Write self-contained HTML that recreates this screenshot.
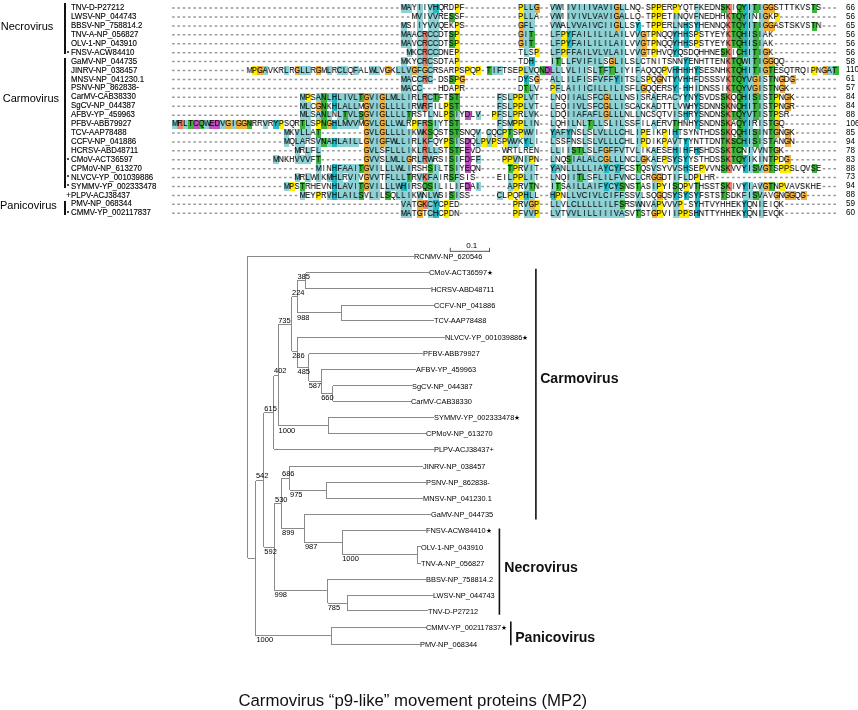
<!DOCTYPE html>
<html><head><meta charset="utf-8"><style>
html,body{margin:0;padding:0;background:#fff;}
body{width:858px;height:710px;position:relative;overflow:hidden;font-family:"Liberation Sans",sans-serif;color:#111;}
s{position:absolute;height:8.92px;display:block;text-decoration:none;}
.ar{position:absolute;left:172.00px;height:8.92px;white-space:nowrap;font-size:8.7px;line-height:8.92px;transform:scaleX(0.8600);transform-origin:0 0;will-change:transform;}
.ar b,.ar i{display:inline-block;width:6.2016px;height:8.92px;text-align:center;font-weight:normal;font-style:normal;position:relative;vertical-align:top;color:#000;-webkit-text-stroke:0.1px #000;}

.nm{position:absolute;left:70.9px;font-size:8.4px;line-height:8.92px;white-space:nowrap;color:#000;transform:scaleX(.94);transform-origin:0 0;-webkit-text-stroke:0.12px #000;}
.num{position:absolute;left:846px;font-size:9px;line-height:8.92px;color:#000;transform:scaleX(.9);transform-origin:0 0;}
.dot{position:absolute;left:67.3px;width:2px;height:2px;border-radius:1px;background:#111;}
.plus{position:absolute;left:65.9px;font-size:8.6px;line-height:8.92px;color:#000;}
.bar{position:absolute;left:64.1px;width:1.9px;background:#111;}
.grp{position:absolute;font-size:11px;line-height:11px;white-space:nowrap;color:#000;}
.tree{position:absolute;left:0;top:0;}
.lf{position:absolute;font-size:7.8px;line-height:10px;white-space:nowrap;color:#000;transform:scaleX(.95);transform-origin:0 50%;}
.st{font-size:7px;}
.bt{position:absolute;font-size:7.5px;line-height:8px;white-space:nowrap;color:#000;}
.big{position:absolute;font-size:14.1px;font-weight:bold;line-height:14px;white-space:nowrap;color:#111;}
.cap{position:absolute;left:238.4px;top:691.5px;font-size:16.8px;line-height:17px;white-space:nowrap;color:#111;}
</style></head><body><div id="wrap" style="position:absolute;left:0;top:0;width:858px;height:710px;will-change:transform">
<div class="grp" style="left:0.8px;top:20.6px">Necrovirus</div>
<div class="grp" style="left:2.8px;top:93.4px">Carmovirus</div>
<div class="grp" style="left:0px;top:199.6px">Panicovirus</div>
<div class="bar" style="top:3.3px;height:50.3px"></div>
<div class="bar" style="top:58.4px;height:129.5px"></div>
<div class="bar" style="top:201px;height:13.5px"></div>
<div class="nm" style="top:3.20px">TNV-D-P27212</div><div class="num" style="top:3.00px">66</div><div class="nm" style="top:12.12px">LWSV-NP_044743</div><div class="num" style="top:11.92px">56</div><div class="nm" style="top:21.04px">BBSV-NP_758814.2</div><div class="num" style="top:20.84px">65</div><div class="nm" style="top:29.96px">TNV-A-NP_056827</div><div class="num" style="top:29.76px">56</div><div class="nm" style="top:38.88px">OLV-1-NP_043910</div><div class="num" style="top:38.68px">56</div><div class="nm" style="top:47.80px">FNSV-ACW84410</div><div class="num" style="top:47.60px">56</div><div class="dot" style="top:50.50px"></div><div class="nm" style="top:56.72px">GaMV-NP_044735</div><div class="num" style="top:56.52px">58</div><div class="nm" style="top:65.64px">JINRV-NP_038457</div><div class="num" style="top:65.44px">110</div><div class="nm" style="top:74.56px">MNSV-NP_041230.1</div><div class="num" style="top:74.36px">61</div><div class="nm" style="top:83.48px">PSNV-NP_862838-</div><div class="num" style="top:83.28px">57</div><div class="nm" style="top:92.40px">CarMV-CAB38330</div><div class="num" style="top:92.20px">84</div><div class="nm" style="top:101.32px">SgCV-NP_044387</div><div class="num" style="top:101.12px">84</div><div class="nm" style="top:110.24px">AFBV-YP_459963</div><div class="num" style="top:110.04px">88</div><div class="nm" style="top:119.16px">PFBV-ABB79927</div><div class="num" style="top:118.96px">106</div><div class="nm" style="top:128.08px">TCV-AAP78488</div><div class="num" style="top:127.88px">85</div><div class="nm" style="top:137.00px">CCFV-NP_041886</div><div class="num" style="top:136.80px">94</div><div class="nm" style="top:145.92px">HCRSV-ABD48711</div><div class="num" style="top:145.72px">78</div><div class="nm" style="top:154.84px">CMoV-ACT36597</div><div class="num" style="top:154.64px">83</div><div class="dot" style="top:157.54px"></div><div class="nm" style="top:163.76px">CPMoV-NP_613270</div><div class="num" style="top:163.56px">88</div><div class="nm" style="top:172.68px">NLVCV-YP_001039886</div><div class="num" style="top:172.48px">73</div><div class="dot" style="top:175.38px"></div><div class="nm" style="top:181.60px">SYMMV-YP_002333478</div><div class="num" style="top:181.40px">94</div><div class="dot" style="top:184.30px"></div><div class="nm" style="top:190.52px">PLPV-ACJ38437</div><div class="num" style="top:190.32px">88</div><div class="plus" style="top:191.12px">+</div><div class="nm" style="top:199.44px">PMV-NP_068344</div><div class="num" style="top:199.24px">59</div><div class="nm" style="top:208.36px">CMMV-YP_002117837</div><div class="num" style="top:208.16px">60</div><div class="dot" style="top:211.06px"></div>
<s style="left:401.33px;top:3.80px;width:10.67px;background:#8ed2d6"></s><s style="left:417.33px;top:3.80px;width:5.33px;background:#8ed2d6"></s><s style="left:428.00px;top:3.80px;width:5.33px;background:#8ed2d6"></s><s style="left:433.33px;top:3.80px;width:5.33px;background:#22b8c4"></s><s style="left:454.67px;top:3.80px;width:5.33px;background:#ffec00"></s><s style="left:518.67px;top:3.80px;width:5.33px;background:#ffec00"></s><s style="left:524.00px;top:3.80px;width:10.67px;background:#8ed2d6"></s><s style="left:534.67px;top:3.80px;width:5.33px;background:#f0b040"></s><s style="left:550.67px;top:3.80px;width:10.67px;background:#8ed2d6"></s><s style="left:566.67px;top:3.80px;width:48.00px;background:#8ed2d6"></s><s style="left:614.67px;top:3.80px;width:5.33px;background:#f0b040"></s><s style="left:620.00px;top:3.80px;width:5.33px;background:#8ed2d6"></s><s style="left:652.00px;top:3.80px;width:10.67px;background:#ffec00"></s><s style="left:673.33px;top:3.80px;width:5.33px;background:#ffec00"></s><s style="left:694.67px;top:3.80px;width:5.33px;background:#8ed2d6"></s><s style="left:721.33px;top:3.80px;width:5.33px;background:#3cb43c"></s><s style="left:726.67px;top:3.80px;width:5.33px;background:#f0826a"></s><s style="left:737.33px;top:3.80px;width:5.33px;background:#3cb43c"></s><s style="left:742.67px;top:3.80px;width:5.33px;background:#22b8c4"></s><s style="left:748.00px;top:3.80px;width:5.33px;background:#8ed2d6"></s><s style="left:753.33px;top:3.80px;width:5.33px;background:#3cb43c"></s><s style="left:758.67px;top:3.80px;width:5.33px;background:#8ed2d6"></s><s style="left:764.00px;top:3.80px;width:10.67px;background:#f0b040"></s><s style="left:812.00px;top:3.80px;width:5.33px;background:#3cb43c"></s><s style="left:417.33px;top:12.72px;width:5.33px;background:#8ed2d6"></s><s style="left:428.00px;top:12.72px;width:10.67px;background:#8ed2d6"></s><s style="left:449.33px;top:12.72px;width:5.33px;background:#3cb43c"></s><s style="left:518.67px;top:12.72px;width:5.33px;background:#ffec00"></s><s style="left:524.00px;top:12.72px;width:10.67px;background:#8ed2d6"></s><s style="left:550.67px;top:12.72px;width:10.67px;background:#8ed2d6"></s><s style="left:566.67px;top:12.72px;width:48.00px;background:#8ed2d6"></s><s style="left:614.67px;top:12.72px;width:5.33px;background:#f0b040"></s><s style="left:620.00px;top:12.72px;width:5.33px;background:#8ed2d6"></s><s style="left:652.00px;top:12.72px;width:10.67px;background:#ffec00"></s><s style="left:673.33px;top:12.72px;width:5.33px;background:#8ed2d6"></s><s style="left:694.67px;top:12.72px;width:5.33px;background:#8ed2d6"></s><s style="left:726.67px;top:12.72px;width:5.33px;background:#f0826a"></s><s style="left:732.00px;top:12.72px;width:10.67px;background:#3cb43c"></s><s style="left:742.67px;top:12.72px;width:5.33px;background:#22b8c4"></s><s style="left:748.00px;top:12.72px;width:5.33px;background:#8ed2d6"></s><s style="left:758.67px;top:12.72px;width:5.33px;background:#8ed2d6"></s><s style="left:764.00px;top:12.72px;width:5.33px;background:#f0b040"></s><s style="left:774.67px;top:12.72px;width:5.33px;background:#ffec00"></s><s style="left:401.33px;top:21.64px;width:5.33px;background:#8ed2d6"></s><s style="left:417.33px;top:21.64px;width:5.33px;background:#8ed2d6"></s><s style="left:428.00px;top:21.64px;width:10.67px;background:#8ed2d6"></s><s style="left:454.67px;top:21.64px;width:5.33px;background:#ffec00"></s><s style="left:518.67px;top:21.64px;width:5.33px;background:#f0b040"></s><s style="left:524.00px;top:21.64px;width:10.67px;background:#8ed2d6"></s><s style="left:550.67px;top:21.64px;width:10.67px;background:#8ed2d6"></s><s style="left:566.67px;top:21.64px;width:48.00px;background:#8ed2d6"></s><s style="left:614.67px;top:21.64px;width:5.33px;background:#f0b040"></s><s style="left:620.00px;top:21.64px;width:5.33px;background:#8ed2d6"></s><s style="left:636.00px;top:21.64px;width:5.33px;background:#22b8c4"></s><s style="left:652.00px;top:21.64px;width:10.67px;background:#ffec00"></s><s style="left:673.33px;top:21.64px;width:5.33px;background:#8ed2d6"></s><s style="left:684.00px;top:21.64px;width:5.33px;background:#22b8c4"></s><s style="left:694.67px;top:21.64px;width:5.33px;background:#22b8c4"></s><s style="left:726.67px;top:21.64px;width:5.33px;background:#f0826a"></s><s style="left:732.00px;top:21.64px;width:10.67px;background:#3cb43c"></s><s style="left:742.67px;top:21.64px;width:5.33px;background:#22b8c4"></s><s style="left:748.00px;top:21.64px;width:5.33px;background:#8ed2d6"></s><s style="left:753.33px;top:21.64px;width:5.33px;background:#3cb43c"></s><s style="left:758.67px;top:21.64px;width:5.33px;background:#8ed2d6"></s><s style="left:764.00px;top:21.64px;width:10.67px;background:#f0b040"></s><s style="left:812.00px;top:21.64px;width:5.33px;background:#3cb43c"></s><s style="left:401.33px;top:30.56px;width:10.67px;background:#8ed2d6"></s><s style="left:417.33px;top:30.56px;width:5.33px;background:#8ed2d6"></s><s style="left:422.67px;top:30.56px;width:5.33px;background:#f0826a"></s><s style="left:428.00px;top:30.56px;width:10.67px;background:#8ed2d6"></s><s style="left:449.33px;top:30.56px;width:5.33px;background:#3cb43c"></s><s style="left:454.67px;top:30.56px;width:5.33px;background:#ffec00"></s><s style="left:518.67px;top:30.56px;width:5.33px;background:#f0b040"></s><s style="left:524.00px;top:30.56px;width:5.33px;background:#8ed2d6"></s><s style="left:529.33px;top:30.56px;width:5.33px;background:#3cb43c"></s><s style="left:550.67px;top:30.56px;width:10.67px;background:#8ed2d6"></s><s style="left:561.33px;top:30.56px;width:5.33px;background:#ffec00"></s><s style="left:566.67px;top:30.56px;width:5.33px;background:#22b8c4"></s><s style="left:572.00px;top:30.56px;width:53.33px;background:#8ed2d6"></s><s style="left:636.00px;top:30.56px;width:5.33px;background:#8ed2d6"></s><s style="left:641.33px;top:30.56px;width:5.33px;background:#f0b040"></s><s style="left:652.00px;top:30.56px;width:5.33px;background:#ffec00"></s><s style="left:673.33px;top:30.56px;width:5.33px;background:#22b8c4"></s><s style="left:684.00px;top:30.56px;width:5.33px;background:#22b8c4"></s><s style="left:694.67px;top:30.56px;width:5.33px;background:#ffec00"></s><s style="left:726.67px;top:30.56px;width:5.33px;background:#f0826a"></s><s style="left:732.00px;top:30.56px;width:10.67px;background:#3cb43c"></s><s style="left:742.67px;top:30.56px;width:5.33px;background:#22b8c4"></s><s style="left:748.00px;top:30.56px;width:5.33px;background:#8ed2d6"></s><s style="left:753.33px;top:30.56px;width:5.33px;background:#3cb43c"></s><s style="left:758.67px;top:30.56px;width:5.33px;background:#8ed2d6"></s><s style="left:401.33px;top:39.48px;width:10.67px;background:#8ed2d6"></s><s style="left:417.33px;top:39.48px;width:5.33px;background:#8ed2d6"></s><s style="left:422.67px;top:39.48px;width:5.33px;background:#f0826a"></s><s style="left:428.00px;top:39.48px;width:10.67px;background:#8ed2d6"></s><s style="left:449.33px;top:39.48px;width:5.33px;background:#3cb43c"></s><s style="left:454.67px;top:39.48px;width:5.33px;background:#ffec00"></s><s style="left:518.67px;top:39.48px;width:5.33px;background:#f0b040"></s><s style="left:524.00px;top:39.48px;width:5.33px;background:#8ed2d6"></s><s style="left:529.33px;top:39.48px;width:5.33px;background:#3cb43c"></s><s style="left:550.67px;top:39.48px;width:10.67px;background:#8ed2d6"></s><s style="left:561.33px;top:39.48px;width:5.33px;background:#ffec00"></s><s style="left:566.67px;top:39.48px;width:5.33px;background:#22b8c4"></s><s style="left:572.00px;top:39.48px;width:53.33px;background:#8ed2d6"></s><s style="left:636.00px;top:39.48px;width:5.33px;background:#8ed2d6"></s><s style="left:641.33px;top:39.48px;width:5.33px;background:#f0b040"></s><s style="left:652.00px;top:39.48px;width:5.33px;background:#ffec00"></s><s style="left:673.33px;top:39.48px;width:5.33px;background:#22b8c4"></s><s style="left:684.00px;top:39.48px;width:5.33px;background:#22b8c4"></s><s style="left:694.67px;top:39.48px;width:5.33px;background:#ffec00"></s><s style="left:726.67px;top:39.48px;width:5.33px;background:#f0826a"></s><s style="left:732.00px;top:39.48px;width:10.67px;background:#3cb43c"></s><s style="left:742.67px;top:39.48px;width:5.33px;background:#22b8c4"></s><s style="left:748.00px;top:39.48px;width:5.33px;background:#8ed2d6"></s><s style="left:753.33px;top:39.48px;width:5.33px;background:#3cb43c"></s><s style="left:758.67px;top:39.48px;width:5.33px;background:#8ed2d6"></s><s style="left:406.67px;top:48.40px;width:5.33px;background:#8ed2d6"></s><s style="left:417.33px;top:48.40px;width:5.33px;background:#8ed2d6"></s><s style="left:422.67px;top:48.40px;width:5.33px;background:#f0826a"></s><s style="left:428.00px;top:48.40px;width:10.67px;background:#8ed2d6"></s><s style="left:454.67px;top:48.40px;width:5.33px;background:#ffec00"></s><s style="left:524.00px;top:48.40px;width:5.33px;background:#8ed2d6"></s><s style="left:534.67px;top:48.40px;width:5.33px;background:#ffec00"></s><s style="left:550.67px;top:48.40px;width:10.67px;background:#8ed2d6"></s><s style="left:561.33px;top:48.40px;width:5.33px;background:#ffec00"></s><s style="left:566.67px;top:48.40px;width:58.67px;background:#8ed2d6"></s><s style="left:636.00px;top:48.40px;width:5.33px;background:#8ed2d6"></s><s style="left:641.33px;top:48.40px;width:5.33px;background:#f0b040"></s><s style="left:652.00px;top:48.40px;width:5.33px;background:#ffec00"></s><s style="left:673.33px;top:48.40px;width:5.33px;background:#22b8c4"></s><s style="left:721.33px;top:48.40px;width:5.33px;background:#3cb43c"></s><s style="left:726.67px;top:48.40px;width:5.33px;background:#f0826a"></s><s style="left:737.33px;top:48.40px;width:5.33px;background:#3cb43c"></s><s style="left:742.67px;top:48.40px;width:5.33px;background:#22b8c4"></s><s style="left:748.00px;top:48.40px;width:5.33px;background:#8ed2d6"></s><s style="left:753.33px;top:48.40px;width:5.33px;background:#3cb43c"></s><s style="left:758.67px;top:48.40px;width:5.33px;background:#8ed2d6"></s><s style="left:764.00px;top:48.40px;width:5.33px;background:#f0b040"></s><s style="left:401.33px;top:57.32px;width:5.33px;background:#8ed2d6"></s><s style="left:417.33px;top:57.32px;width:5.33px;background:#8ed2d6"></s><s style="left:422.67px;top:57.32px;width:5.33px;background:#f0826a"></s><s style="left:428.00px;top:57.32px;width:5.33px;background:#8ed2d6"></s><s style="left:454.67px;top:57.32px;width:5.33px;background:#ffec00"></s><s style="left:529.33px;top:57.32px;width:5.33px;background:#22b8c4"></s><s style="left:550.67px;top:57.32px;width:5.33px;background:#8ed2d6"></s><s style="left:556.00px;top:57.32px;width:5.33px;background:#3cb43c"></s><s style="left:566.67px;top:57.32px;width:37.33px;background:#8ed2d6"></s><s style="left:609.33px;top:57.32px;width:5.33px;background:#f0b040"></s><s style="left:614.67px;top:57.32px;width:10.67px;background:#8ed2d6"></s><s style="left:636.00px;top:57.32px;width:5.33px;background:#8ed2d6"></s><s style="left:684.00px;top:57.32px;width:5.33px;background:#22b8c4"></s><s style="left:726.67px;top:57.32px;width:5.33px;background:#f0826a"></s><s style="left:732.00px;top:57.32px;width:10.67px;background:#3cb43c"></s><s style="left:742.67px;top:57.32px;width:10.67px;background:#8ed2d6"></s><s style="left:753.33px;top:57.32px;width:5.33px;background:#3cb43c"></s><s style="left:758.67px;top:57.32px;width:5.33px;background:#8ed2d6"></s><s style="left:764.00px;top:57.32px;width:10.67px;background:#f0b040"></s><s style="left:252.00px;top:66.24px;width:5.33px;background:#ffec00"></s><s style="left:257.33px;top:66.24px;width:5.33px;background:#f0b040"></s><s style="left:262.67px;top:66.24px;width:5.33px;background:#8ed2d6"></s><s style="left:284.00px;top:66.24px;width:5.33px;background:#8ed2d6"></s><s style="left:294.67px;top:66.24px;width:5.33px;background:#f0b040"></s><s style="left:300.00px;top:66.24px;width:10.67px;background:#8ed2d6"></s><s style="left:316.00px;top:66.24px;width:5.33px;background:#f0b040"></s><s style="left:326.67px;top:66.24px;width:5.33px;background:#8ed2d6"></s><s style="left:337.33px;top:66.24px;width:10.67px;background:#8ed2d6"></s><s style="left:353.33px;top:66.24px;width:5.33px;background:#8ed2d6"></s><s style="left:369.33px;top:66.24px;width:10.67px;background:#8ed2d6"></s><s style="left:385.33px;top:66.24px;width:5.33px;background:#f0b040"></s><s style="left:396.00px;top:66.24px;width:16.00px;background:#8ed2d6"></s><s style="left:412.00px;top:66.24px;width:5.33px;background:#f0b040"></s><s style="left:417.33px;top:66.24px;width:5.33px;background:#8ed2d6"></s><s style="left:422.67px;top:66.24px;width:5.33px;background:#f0b040"></s><s style="left:428.00px;top:66.24px;width:5.33px;background:#8ed2d6"></s><s style="left:454.67px;top:66.24px;width:5.33px;background:#ffec00"></s><s style="left:465.33px;top:66.24px;width:5.33px;background:#ffec00"></s><s style="left:476.00px;top:66.24px;width:5.33px;background:#ffec00"></s><s style="left:486.67px;top:66.24px;width:5.33px;background:#3cb43c"></s><s style="left:492.00px;top:66.24px;width:10.67px;background:#8ed2d6"></s><s style="left:518.67px;top:66.24px;width:5.33px;background:#ffec00"></s><s style="left:524.00px;top:66.24px;width:10.67px;background:#8ed2d6"></s><s style="left:540.00px;top:66.24px;width:5.33px;background:#3cb43c"></s><s style="left:545.33px;top:66.24px;width:5.33px;background:#c050c0"></s><s style="left:550.67px;top:66.24px;width:10.67px;background:#8ed2d6"></s><s style="left:566.67px;top:66.24px;width:21.33px;background:#8ed2d6"></s><s style="left:593.33px;top:66.24px;width:5.33px;background:#8ed2d6"></s><s style="left:598.67px;top:66.24px;width:5.33px;background:#3cb43c"></s><s style="left:604.00px;top:66.24px;width:5.33px;background:#8ed2d6"></s><s style="left:609.33px;top:66.24px;width:5.33px;background:#3cb43c"></s><s style="left:614.67px;top:66.24px;width:10.67px;background:#8ed2d6"></s><s style="left:636.00px;top:66.24px;width:5.33px;background:#8ed2d6"></s><s style="left:662.67px;top:66.24px;width:5.33px;background:#ffec00"></s><s style="left:673.33px;top:66.24px;width:5.33px;background:#22b8c4"></s><s style="left:684.00px;top:66.24px;width:5.33px;background:#22b8c4"></s><s style="left:694.67px;top:66.24px;width:5.33px;background:#22b8c4"></s><s style="left:726.67px;top:66.24px;width:5.33px;background:#f0826a"></s><s style="left:732.00px;top:66.24px;width:10.67px;background:#3cb43c"></s><s style="left:742.67px;top:66.24px;width:5.33px;background:#22b8c4"></s><s style="left:748.00px;top:66.24px;width:5.33px;background:#8ed2d6"></s><s style="left:753.33px;top:66.24px;width:5.33px;background:#3cb43c"></s><s style="left:758.67px;top:66.24px;width:5.33px;background:#8ed2d6"></s><s style="left:764.00px;top:66.24px;width:5.33px;background:#f0b040"></s><s style="left:769.33px;top:66.24px;width:5.33px;background:#3cb43c"></s><s style="left:812.00px;top:66.24px;width:5.33px;background:#ffec00"></s><s style="left:822.67px;top:66.24px;width:5.33px;background:#f0b040"></s><s style="left:828.00px;top:66.24px;width:5.33px;background:#8ed2d6"></s><s style="left:833.33px;top:66.24px;width:5.33px;background:#3cb43c"></s><s style="left:401.33px;top:75.16px;width:10.67px;background:#8ed2d6"></s><s style="left:417.33px;top:75.16px;width:5.33px;background:#8ed2d6"></s><s style="left:422.67px;top:75.16px;width:5.33px;background:#f0826a"></s><s style="left:428.00px;top:75.16px;width:5.33px;background:#8ed2d6"></s><s style="left:449.33px;top:75.16px;width:5.33px;background:#3cb43c"></s><s style="left:454.67px;top:75.16px;width:5.33px;background:#ffec00"></s><s style="left:460.00px;top:75.16px;width:5.33px;background:#f0b040"></s><s style="left:524.00px;top:75.16px;width:5.33px;background:#22b8c4"></s><s style="left:534.67px;top:75.16px;width:5.33px;background:#f0b040"></s><s style="left:550.67px;top:75.16px;width:10.67px;background:#8ed2d6"></s><s style="left:566.67px;top:75.16px;width:21.33px;background:#8ed2d6"></s><s style="left:593.33px;top:75.16px;width:21.33px;background:#8ed2d6"></s><s style="left:614.67px;top:75.16px;width:5.33px;background:#22b8c4"></s><s style="left:620.00px;top:75.16px;width:5.33px;background:#8ed2d6"></s><s style="left:636.00px;top:75.16px;width:5.33px;background:#8ed2d6"></s><s style="left:646.67px;top:75.16px;width:5.33px;background:#ffec00"></s><s style="left:657.33px;top:75.16px;width:5.33px;background:#f0b040"></s><s style="left:673.33px;top:75.16px;width:5.33px;background:#22b8c4"></s><s style="left:684.00px;top:75.16px;width:5.33px;background:#22b8c4"></s><s style="left:694.67px;top:75.16px;width:5.33px;background:#8ed2d6"></s><s style="left:726.67px;top:75.16px;width:5.33px;background:#f0826a"></s><s style="left:732.00px;top:75.16px;width:10.67px;background:#3cb43c"></s><s style="left:742.67px;top:75.16px;width:5.33px;background:#22b8c4"></s><s style="left:748.00px;top:75.16px;width:5.33px;background:#8ed2d6"></s><s style="left:753.33px;top:75.16px;width:5.33px;background:#f0b040"></s><s style="left:758.67px;top:75.16px;width:5.33px;background:#8ed2d6"></s><s style="left:769.33px;top:75.16px;width:5.33px;background:#3cb43c"></s><s style="left:780.00px;top:75.16px;width:5.33px;background:#f0b040"></s><s style="left:790.67px;top:75.16px;width:5.33px;background:#f0b040"></s><s style="left:401.33px;top:84.08px;width:10.67px;background:#8ed2d6"></s><s style="left:417.33px;top:84.08px;width:5.33px;background:#8ed2d6"></s><s style="left:454.67px;top:84.08px;width:5.33px;background:#ffec00"></s><s style="left:524.00px;top:84.08px;width:5.33px;background:#3cb43c"></s><s style="left:529.33px;top:84.08px;width:5.33px;background:#8ed2d6"></s><s style="left:550.67px;top:84.08px;width:5.33px;background:#ffec00"></s><s style="left:556.00px;top:84.08px;width:5.33px;background:#8ed2d6"></s><s style="left:566.67px;top:84.08px;width:58.67px;background:#8ed2d6"></s><s style="left:636.00px;top:84.08px;width:5.33px;background:#8ed2d6"></s><s style="left:641.33px;top:84.08px;width:5.33px;background:#f0b040"></s><s style="left:673.33px;top:84.08px;width:5.33px;background:#22b8c4"></s><s style="left:684.00px;top:84.08px;width:5.33px;background:#22b8c4"></s><s style="left:694.67px;top:84.08px;width:5.33px;background:#8ed2d6"></s><s style="left:726.67px;top:84.08px;width:5.33px;background:#f0826a"></s><s style="left:732.00px;top:84.08px;width:10.67px;background:#3cb43c"></s><s style="left:742.67px;top:84.08px;width:5.33px;background:#22b8c4"></s><s style="left:748.00px;top:84.08px;width:5.33px;background:#8ed2d6"></s><s style="left:753.33px;top:84.08px;width:5.33px;background:#f0b040"></s><s style="left:758.67px;top:84.08px;width:5.33px;background:#8ed2d6"></s><s style="left:769.33px;top:84.08px;width:5.33px;background:#3cb43c"></s><s style="left:780.00px;top:84.08px;width:5.33px;background:#f0b040"></s><s style="left:300.00px;top:93.00px;width:5.33px;background:#8ed2d6"></s><s style="left:305.33px;top:93.00px;width:5.33px;background:#ffec00"></s><s style="left:316.00px;top:93.00px;width:5.33px;background:#8ed2d6"></s><s style="left:321.33px;top:93.00px;width:5.33px;background:#3cb43c"></s><s style="left:326.67px;top:93.00px;width:5.33px;background:#8ed2d6"></s><s style="left:332.00px;top:93.00px;width:5.33px;background:#22b8c4"></s><s style="left:337.33px;top:93.00px;width:21.33px;background:#8ed2d6"></s><s style="left:358.67px;top:93.00px;width:5.33px;background:#3cb43c"></s><s style="left:364.00px;top:93.00px;width:5.33px;background:#f0b040"></s><s style="left:369.33px;top:93.00px;width:10.67px;background:#8ed2d6"></s><s style="left:380.00px;top:93.00px;width:5.33px;background:#f0b040"></s><s style="left:385.33px;top:93.00px;width:26.67px;background:#8ed2d6"></s><s style="left:417.33px;top:93.00px;width:5.33px;background:#8ed2d6"></s><s style="left:422.67px;top:93.00px;width:5.33px;background:#f0826a"></s><s style="left:428.00px;top:93.00px;width:5.33px;background:#8ed2d6"></s><s style="left:433.33px;top:93.00px;width:5.33px;background:#3cb43c"></s><s style="left:449.33px;top:93.00px;width:10.67px;background:#3cb43c"></s><s style="left:497.33px;top:93.00px;width:5.33px;background:#8ed2d6"></s><s style="left:508.00px;top:93.00px;width:5.33px;background:#8ed2d6"></s><s style="left:513.33px;top:93.00px;width:10.67px;background:#ffec00"></s><s style="left:524.00px;top:93.00px;width:10.67px;background:#8ed2d6"></s><s style="left:550.67px;top:93.00px;width:5.33px;background:#8ed2d6"></s><s style="left:566.67px;top:93.00px;width:21.33px;background:#8ed2d6"></s><s style="left:593.33px;top:93.00px;width:10.67px;background:#8ed2d6"></s><s style="left:604.00px;top:93.00px;width:5.33px;background:#f0b040"></s><s style="left:609.33px;top:93.00px;width:16.00px;background:#8ed2d6"></s><s style="left:636.00px;top:93.00px;width:5.33px;background:#8ed2d6"></s><s style="left:652.00px;top:93.00px;width:5.33px;background:#8ed2d6"></s><s style="left:673.33px;top:93.00px;width:5.33px;background:#8ed2d6"></s><s style="left:684.00px;top:93.00px;width:5.33px;background:#22b8c4"></s><s style="left:694.67px;top:93.00px;width:5.33px;background:#22b8c4"></s><s style="left:721.33px;top:93.00px;width:5.33px;background:#3cb43c"></s><s style="left:726.67px;top:93.00px;width:5.33px;background:#f0826a"></s><s style="left:737.33px;top:93.00px;width:5.33px;background:#3cb43c"></s><s style="left:742.67px;top:93.00px;width:5.33px;background:#22b8c4"></s><s style="left:748.00px;top:93.00px;width:5.33px;background:#8ed2d6"></s><s style="left:753.33px;top:93.00px;width:5.33px;background:#3cb43c"></s><s style="left:758.67px;top:93.00px;width:5.33px;background:#8ed2d6"></s><s style="left:769.33px;top:93.00px;width:5.33px;background:#3cb43c"></s><s style="left:774.67px;top:93.00px;width:5.33px;background:#ffec00"></s><s style="left:785.33px;top:93.00px;width:5.33px;background:#f0b040"></s><s style="left:300.00px;top:101.92px;width:10.67px;background:#8ed2d6"></s><s style="left:316.00px;top:101.92px;width:5.33px;background:#f0b040"></s><s style="left:321.33px;top:101.92px;width:5.33px;background:#3cb43c"></s><s style="left:332.00px;top:101.92px;width:5.33px;background:#22b8c4"></s><s style="left:337.33px;top:101.92px;width:21.33px;background:#8ed2d6"></s><s style="left:364.00px;top:101.92px;width:5.33px;background:#f0b040"></s><s style="left:369.33px;top:101.92px;width:10.67px;background:#8ed2d6"></s><s style="left:380.00px;top:101.92px;width:5.33px;background:#f0b040"></s><s style="left:385.33px;top:101.92px;width:26.67px;background:#8ed2d6"></s><s style="left:417.33px;top:101.92px;width:5.33px;background:#8ed2d6"></s><s style="left:422.67px;top:101.92px;width:5.33px;background:#f0826a"></s><s style="left:428.00px;top:101.92px;width:5.33px;background:#8ed2d6"></s><s style="left:444.00px;top:101.92px;width:5.33px;background:#ffec00"></s><s style="left:449.33px;top:101.92px;width:10.67px;background:#3cb43c"></s><s style="left:497.33px;top:101.92px;width:5.33px;background:#8ed2d6"></s><s style="left:508.00px;top:101.92px;width:5.33px;background:#8ed2d6"></s><s style="left:513.33px;top:101.92px;width:10.67px;background:#ffec00"></s><s style="left:524.00px;top:101.92px;width:10.67px;background:#8ed2d6"></s><s style="left:550.67px;top:101.92px;width:5.33px;background:#8ed2d6"></s><s style="left:566.67px;top:101.92px;width:21.33px;background:#8ed2d6"></s><s style="left:593.33px;top:101.92px;width:10.67px;background:#8ed2d6"></s><s style="left:604.00px;top:101.92px;width:5.33px;background:#f0b040"></s><s style="left:609.33px;top:101.92px;width:16.00px;background:#8ed2d6"></s><s style="left:636.00px;top:101.92px;width:5.33px;background:#8ed2d6"></s><s style="left:652.00px;top:101.92px;width:5.33px;background:#8ed2d6"></s><s style="left:673.33px;top:101.92px;width:5.33px;background:#8ed2d6"></s><s style="left:684.00px;top:101.92px;width:5.33px;background:#8ed2d6"></s><s style="left:694.67px;top:101.92px;width:5.33px;background:#22b8c4"></s><s style="left:721.33px;top:101.92px;width:5.33px;background:#3cb43c"></s><s style="left:726.67px;top:101.92px;width:5.33px;background:#f0826a"></s><s style="left:737.33px;top:101.92px;width:5.33px;background:#3cb43c"></s><s style="left:742.67px;top:101.92px;width:5.33px;background:#22b8c4"></s><s style="left:748.00px;top:101.92px;width:5.33px;background:#8ed2d6"></s><s style="left:753.33px;top:101.92px;width:5.33px;background:#3cb43c"></s><s style="left:758.67px;top:101.92px;width:5.33px;background:#8ed2d6"></s><s style="left:769.33px;top:101.92px;width:5.33px;background:#3cb43c"></s><s style="left:774.67px;top:101.92px;width:5.33px;background:#ffec00"></s><s style="left:785.33px;top:101.92px;width:5.33px;background:#f0b040"></s><s style="left:300.00px;top:110.84px;width:10.67px;background:#8ed2d6"></s><s style="left:316.00px;top:110.84px;width:5.33px;background:#8ed2d6"></s><s style="left:321.33px;top:110.84px;width:5.33px;background:#3cb43c"></s><s style="left:326.67px;top:110.84px;width:5.33px;background:#8ed2d6"></s><s style="left:337.33px;top:110.84px;width:5.33px;background:#8ed2d6"></s><s style="left:342.67px;top:110.84px;width:5.33px;background:#3cb43c"></s><s style="left:348.00px;top:110.84px;width:10.67px;background:#8ed2d6"></s><s style="left:358.67px;top:110.84px;width:5.33px;background:#3cb43c"></s><s style="left:364.00px;top:110.84px;width:5.33px;background:#f0b040"></s><s style="left:369.33px;top:110.84px;width:10.67px;background:#8ed2d6"></s><s style="left:380.00px;top:110.84px;width:5.33px;background:#f0b040"></s><s style="left:385.33px;top:110.84px;width:21.33px;background:#8ed2d6"></s><s style="left:406.67px;top:110.84px;width:5.33px;background:#3cb43c"></s><s style="left:428.00px;top:110.84px;width:5.33px;background:#8ed2d6"></s><s style="left:444.00px;top:110.84px;width:5.33px;background:#ffec00"></s><s style="left:449.33px;top:110.84px;width:5.33px;background:#3cb43c"></s><s style="left:454.67px;top:110.84px;width:5.33px;background:#8ed2d6"></s><s style="left:465.33px;top:110.84px;width:5.33px;background:#c050c0"></s><s style="left:476.00px;top:110.84px;width:5.33px;background:#8ed2d6"></s><s style="left:492.00px;top:110.84px;width:5.33px;background:#ffec00"></s><s style="left:497.33px;top:110.84px;width:5.33px;background:#8ed2d6"></s><s style="left:508.00px;top:110.84px;width:5.33px;background:#8ed2d6"></s><s style="left:513.33px;top:110.84px;width:5.33px;background:#ffec00"></s><s style="left:524.00px;top:110.84px;width:10.67px;background:#8ed2d6"></s><s style="left:550.67px;top:110.84px;width:5.33px;background:#8ed2d6"></s><s style="left:566.67px;top:110.84px;width:37.33px;background:#8ed2d6"></s><s style="left:604.00px;top:110.84px;width:5.33px;background:#f0b040"></s><s style="left:609.33px;top:110.84px;width:16.00px;background:#8ed2d6"></s><s style="left:636.00px;top:110.84px;width:5.33px;background:#8ed2d6"></s><s style="left:673.33px;top:110.84px;width:5.33px;background:#8ed2d6"></s><s style="left:684.00px;top:110.84px;width:5.33px;background:#22b8c4"></s><s style="left:694.67px;top:110.84px;width:5.33px;background:#22b8c4"></s><s style="left:721.33px;top:110.84px;width:5.33px;background:#3cb43c"></s><s style="left:726.67px;top:110.84px;width:5.33px;background:#f0826a"></s><s style="left:732.00px;top:110.84px;width:10.67px;background:#3cb43c"></s><s style="left:742.67px;top:110.84px;width:5.33px;background:#22b8c4"></s><s style="left:748.00px;top:110.84px;width:5.33px;background:#8ed2d6"></s><s style="left:753.33px;top:110.84px;width:5.33px;background:#3cb43c"></s><s style="left:758.67px;top:110.84px;width:5.33px;background:#8ed2d6"></s><s style="left:769.33px;top:110.84px;width:5.33px;background:#3cb43c"></s><s style="left:774.67px;top:110.84px;width:5.33px;background:#ffec00"></s><s style="left:172.00px;top:119.76px;width:5.33px;background:#8ed2d6"></s><s style="left:177.33px;top:119.76px;width:5.33px;background:#f0826a"></s><s style="left:182.67px;top:119.76px;width:5.33px;background:#8ed2d6"></s><s style="left:188.00px;top:119.76px;width:5.33px;background:#3cb43c"></s><s style="left:193.33px;top:119.76px;width:5.33px;background:#c050c0"></s><s style="left:198.67px;top:119.76px;width:5.33px;background:#3cb43c"></s><s style="left:204.00px;top:119.76px;width:5.33px;background:#8ed2d6"></s><s style="left:209.33px;top:119.76px;width:10.67px;background:#c050c0"></s><s style="left:220.00px;top:119.76px;width:5.33px;background:#8ed2d6"></s><s style="left:225.33px;top:119.76px;width:5.33px;background:#f0b040"></s><s style="left:230.67px;top:119.76px;width:5.33px;background:#8ed2d6"></s><s style="left:236.00px;top:119.76px;width:10.67px;background:#f0b040"></s><s style="left:246.67px;top:119.76px;width:5.33px;background:#3cb43c"></s><s style="left:262.67px;top:119.76px;width:5.33px;background:#8ed2d6"></s><s style="left:273.33px;top:119.76px;width:5.33px;background:#22b8c4"></s><s style="left:278.67px;top:119.76px;width:5.33px;background:#ffec00"></s><s style="left:300.00px;top:119.76px;width:5.33px;background:#3cb43c"></s><s style="left:305.33px;top:119.76px;width:5.33px;background:#8ed2d6"></s><s style="left:316.00px;top:119.76px;width:5.33px;background:#ffec00"></s><s style="left:321.33px;top:119.76px;width:5.33px;background:#3cb43c"></s><s style="left:326.67px;top:119.76px;width:5.33px;background:#f0b040"></s><s style="left:332.00px;top:119.76px;width:5.33px;background:#22b8c4"></s><s style="left:337.33px;top:119.76px;width:21.33px;background:#8ed2d6"></s><s style="left:364.00px;top:119.76px;width:5.33px;background:#f0b040"></s><s style="left:369.33px;top:119.76px;width:10.67px;background:#8ed2d6"></s><s style="left:380.00px;top:119.76px;width:5.33px;background:#f0b040"></s><s style="left:385.33px;top:119.76px;width:21.33px;background:#8ed2d6"></s><s style="left:412.00px;top:119.76px;width:5.33px;background:#ffec00"></s><s style="left:417.33px;top:119.76px;width:5.33px;background:#8ed2d6"></s><s style="left:422.67px;top:119.76px;width:5.33px;background:#f0826a"></s><s style="left:428.00px;top:119.76px;width:5.33px;background:#3cb43c"></s><s style="left:433.33px;top:119.76px;width:5.33px;background:#8ed2d6"></s><s style="left:449.33px;top:119.76px;width:10.67px;background:#3cb43c"></s><s style="left:497.33px;top:119.76px;width:5.33px;background:#8ed2d6"></s><s style="left:508.00px;top:119.76px;width:5.33px;background:#8ed2d6"></s><s style="left:513.33px;top:119.76px;width:10.67px;background:#ffec00"></s><s style="left:524.00px;top:119.76px;width:10.67px;background:#8ed2d6"></s><s style="left:550.67px;top:119.76px;width:5.33px;background:#8ed2d6"></s><s style="left:566.67px;top:119.76px;width:10.67px;background:#8ed2d6"></s><s style="left:582.67px;top:119.76px;width:5.33px;background:#8ed2d6"></s><s style="left:588.00px;top:119.76px;width:5.33px;background:#3cb43c"></s><s style="left:593.33px;top:119.76px;width:10.67px;background:#8ed2d6"></s><s style="left:609.33px;top:119.76px;width:16.00px;background:#8ed2d6"></s><s style="left:636.00px;top:119.76px;width:5.33px;background:#8ed2d6"></s><s style="left:652.00px;top:119.76px;width:5.33px;background:#8ed2d6"></s><s style="left:673.33px;top:119.76px;width:5.33px;background:#3cb43c"></s><s style="left:694.67px;top:119.76px;width:5.33px;background:#22b8c4"></s><s style="left:721.33px;top:119.76px;width:5.33px;background:#3cb43c"></s><s style="left:726.67px;top:119.76px;width:5.33px;background:#f0826a"></s><s style="left:737.33px;top:119.76px;width:5.33px;background:#3cb43c"></s><s style="left:742.67px;top:119.76px;width:5.33px;background:#22b8c4"></s><s style="left:748.00px;top:119.76px;width:5.33px;background:#8ed2d6"></s><s style="left:758.67px;top:119.76px;width:5.33px;background:#8ed2d6"></s><s style="left:769.33px;top:119.76px;width:5.33px;background:#3cb43c"></s><s style="left:774.67px;top:119.76px;width:5.33px;background:#f0b040"></s><s style="left:284.00px;top:128.68px;width:5.33px;background:#8ed2d6"></s><s style="left:294.67px;top:128.68px;width:16.00px;background:#8ed2d6"></s><s style="left:316.00px;top:128.68px;width:5.33px;background:#3cb43c"></s><s style="left:364.00px;top:128.68px;width:5.33px;background:#f0b040"></s><s style="left:369.33px;top:128.68px;width:10.67px;background:#8ed2d6"></s><s style="left:380.00px;top:128.68px;width:5.33px;background:#f0b040"></s><s style="left:385.33px;top:128.68px;width:26.67px;background:#8ed2d6"></s><s style="left:417.33px;top:128.68px;width:5.33px;background:#8ed2d6"></s><s style="left:422.67px;top:128.68px;width:5.33px;background:#f0826a"></s><s style="left:428.00px;top:128.68px;width:5.33px;background:#3cb43c"></s><s style="left:449.33px;top:128.68px;width:10.67px;background:#3cb43c"></s><s style="left:476.00px;top:128.68px;width:5.33px;background:#8ed2d6"></s><s style="left:486.67px;top:128.68px;width:5.33px;background:#8ed2d6"></s><s style="left:497.33px;top:128.68px;width:5.33px;background:#8ed2d6"></s><s style="left:502.67px;top:128.68px;width:5.33px;background:#ffec00"></s><s style="left:508.00px;top:128.68px;width:5.33px;background:#3cb43c"></s><s style="left:518.67px;top:128.68px;width:5.33px;background:#ffec00"></s><s style="left:524.00px;top:128.68px;width:10.67px;background:#8ed2d6"></s><s style="left:550.67px;top:128.68px;width:5.33px;background:#22b8c4"></s><s style="left:556.00px;top:128.68px;width:10.67px;background:#8ed2d6"></s><s style="left:566.67px;top:128.68px;width:5.33px;background:#22b8c4"></s><s style="left:582.67px;top:128.68px;width:5.33px;background:#8ed2d6"></s><s style="left:593.33px;top:128.68px;width:32.00px;background:#8ed2d6"></s><s style="left:636.00px;top:128.68px;width:5.33px;background:#8ed2d6"></s><s style="left:641.33px;top:128.68px;width:5.33px;background:#ffec00"></s><s style="left:662.67px;top:128.68px;width:5.33px;background:#ffec00"></s><s style="left:673.33px;top:128.68px;width:5.33px;background:#22b8c4"></s><s style="left:721.33px;top:128.68px;width:5.33px;background:#3cb43c"></s><s style="left:726.67px;top:128.68px;width:5.33px;background:#f0826a"></s><s style="left:737.33px;top:128.68px;width:5.33px;background:#3cb43c"></s><s style="left:742.67px;top:128.68px;width:5.33px;background:#22b8c4"></s><s style="left:748.00px;top:128.68px;width:5.33px;background:#8ed2d6"></s><s style="left:753.33px;top:128.68px;width:5.33px;background:#3cb43c"></s><s style="left:758.67px;top:128.68px;width:5.33px;background:#8ed2d6"></s><s style="left:769.33px;top:128.68px;width:5.33px;background:#3cb43c"></s><s style="left:774.67px;top:128.68px;width:5.33px;background:#f0b040"></s><s style="left:785.33px;top:128.68px;width:5.33px;background:#f0b040"></s><s style="left:284.00px;top:137.60px;width:5.33px;background:#8ed2d6"></s><s style="left:294.67px;top:137.60px;width:10.67px;background:#8ed2d6"></s><s style="left:316.00px;top:137.60px;width:5.33px;background:#8ed2d6"></s><s style="left:321.33px;top:137.60px;width:5.33px;background:#3cb43c"></s><s style="left:326.67px;top:137.60px;width:5.33px;background:#8ed2d6"></s><s style="left:332.00px;top:137.60px;width:5.33px;background:#22b8c4"></s><s style="left:337.33px;top:137.60px;width:21.33px;background:#8ed2d6"></s><s style="left:364.00px;top:137.60px;width:5.33px;background:#f0b040"></s><s style="left:369.33px;top:137.60px;width:10.67px;background:#8ed2d6"></s><s style="left:380.00px;top:137.60px;width:5.33px;background:#f0b040"></s><s style="left:385.33px;top:137.60px;width:26.67px;background:#8ed2d6"></s><s style="left:417.33px;top:137.60px;width:5.33px;background:#8ed2d6"></s><s style="left:422.67px;top:137.60px;width:5.33px;background:#f0826a"></s><s style="left:428.00px;top:137.60px;width:5.33px;background:#8ed2d6"></s><s style="left:444.00px;top:137.60px;width:5.33px;background:#ffec00"></s><s style="left:449.33px;top:137.60px;width:5.33px;background:#3cb43c"></s><s style="left:454.67px;top:137.60px;width:5.33px;background:#8ed2d6"></s><s style="left:465.33px;top:137.60px;width:5.33px;background:#c050c0"></s><s style="left:476.00px;top:137.60px;width:5.33px;background:#8ed2d6"></s><s style="left:481.33px;top:137.60px;width:5.33px;background:#ffec00"></s><s style="left:486.67px;top:137.60px;width:5.33px;background:#8ed2d6"></s><s style="left:492.00px;top:137.60px;width:5.33px;background:#ffec00"></s><s style="left:502.67px;top:137.60px;width:5.33px;background:#ffec00"></s><s style="left:508.00px;top:137.60px;width:10.67px;background:#8ed2d6"></s><s style="left:524.00px;top:137.60px;width:5.33px;background:#22b8c4"></s><s style="left:529.33px;top:137.60px;width:5.33px;background:#8ed2d6"></s><s style="left:550.67px;top:137.60px;width:5.33px;background:#8ed2d6"></s><s style="left:566.67px;top:137.60px;width:5.33px;background:#8ed2d6"></s><s style="left:582.67px;top:137.60px;width:5.33px;background:#8ed2d6"></s><s style="left:593.33px;top:137.60px;width:32.00px;background:#8ed2d6"></s><s style="left:636.00px;top:137.60px;width:5.33px;background:#8ed2d6"></s><s style="left:641.33px;top:137.60px;width:5.33px;background:#ffec00"></s><s style="left:662.67px;top:137.60px;width:5.33px;background:#ffec00"></s><s style="left:673.33px;top:137.60px;width:5.33px;background:#8ed2d6"></s><s style="left:684.00px;top:137.60px;width:5.33px;background:#22b8c4"></s><s style="left:721.33px;top:137.60px;width:5.33px;background:#3cb43c"></s><s style="left:726.67px;top:137.60px;width:5.33px;background:#f0826a"></s><s style="left:732.00px;top:137.60px;width:10.67px;background:#3cb43c"></s><s style="left:742.67px;top:137.60px;width:5.33px;background:#22b8c4"></s><s style="left:748.00px;top:137.60px;width:5.33px;background:#8ed2d6"></s><s style="left:753.33px;top:137.60px;width:5.33px;background:#3cb43c"></s><s style="left:758.67px;top:137.60px;width:5.33px;background:#8ed2d6"></s><s style="left:769.33px;top:137.60px;width:5.33px;background:#3cb43c"></s><s style="left:785.33px;top:137.60px;width:5.33px;background:#f0b040"></s><s style="left:294.67px;top:146.52px;width:5.33px;background:#8ed2d6"></s><s style="left:305.33px;top:146.52px;width:5.33px;background:#8ed2d6"></s><s style="left:316.00px;top:146.52px;width:5.33px;background:#8ed2d6"></s><s style="left:364.00px;top:146.52px;width:5.33px;background:#f0b040"></s><s style="left:369.33px;top:146.52px;width:10.67px;background:#8ed2d6"></s><s style="left:385.33px;top:146.52px;width:26.67px;background:#8ed2d6"></s><s style="left:417.33px;top:146.52px;width:5.33px;background:#8ed2d6"></s><s style="left:422.67px;top:146.52px;width:5.33px;background:#f0826a"></s><s style="left:428.00px;top:146.52px;width:10.67px;background:#8ed2d6"></s><s style="left:449.33px;top:146.52px;width:10.67px;background:#3cb43c"></s><s style="left:465.33px;top:146.52px;width:5.33px;background:#c050c0"></s><s style="left:550.67px;top:146.52px;width:10.67px;background:#8ed2d6"></s><s style="left:566.67px;top:146.52px;width:5.33px;background:#8ed2d6"></s><s style="left:572.00px;top:146.52px;width:10.67px;background:#3cb43c"></s><s style="left:582.67px;top:146.52px;width:5.33px;background:#8ed2d6"></s><s style="left:593.33px;top:146.52px;width:10.67px;background:#8ed2d6"></s><s style="left:604.00px;top:146.52px;width:5.33px;background:#f0b040"></s><s style="left:609.33px;top:146.52px;width:16.00px;background:#8ed2d6"></s><s style="left:636.00px;top:146.52px;width:5.33px;background:#8ed2d6"></s><s style="left:652.00px;top:146.52px;width:5.33px;background:#8ed2d6"></s><s style="left:673.33px;top:146.52px;width:5.33px;background:#22b8c4"></s><s style="left:684.00px;top:146.52px;width:5.33px;background:#22b8c4"></s><s style="left:694.67px;top:146.52px;width:5.33px;background:#22b8c4"></s><s style="left:721.33px;top:146.52px;width:5.33px;background:#3cb43c"></s><s style="left:726.67px;top:146.52px;width:5.33px;background:#f0826a"></s><s style="left:732.00px;top:146.52px;width:10.67px;background:#3cb43c"></s><s style="left:748.00px;top:146.52px;width:5.33px;background:#8ed2d6"></s><s style="left:758.67px;top:146.52px;width:5.33px;background:#8ed2d6"></s><s style="left:769.33px;top:146.52px;width:5.33px;background:#3cb43c"></s><s style="left:774.67px;top:146.52px;width:5.33px;background:#f0b040"></s><s style="left:273.33px;top:155.44px;width:5.33px;background:#8ed2d6"></s><s style="left:294.67px;top:155.44px;width:16.00px;background:#8ed2d6"></s><s style="left:316.00px;top:155.44px;width:5.33px;background:#3cb43c"></s><s style="left:364.00px;top:155.44px;width:5.33px;background:#f0b040"></s><s style="left:369.33px;top:155.44px;width:10.67px;background:#8ed2d6"></s><s style="left:385.33px;top:155.44px;width:21.33px;background:#8ed2d6"></s><s style="left:406.67px;top:155.44px;width:5.33px;background:#f0b040"></s><s style="left:417.33px;top:155.44px;width:5.33px;background:#8ed2d6"></s><s style="left:422.67px;top:155.44px;width:5.33px;background:#f0826a"></s><s style="left:428.00px;top:155.44px;width:5.33px;background:#8ed2d6"></s><s style="left:449.33px;top:155.44px;width:5.33px;background:#3cb43c"></s><s style="left:454.67px;top:155.44px;width:5.33px;background:#8ed2d6"></s><s style="left:465.33px;top:155.44px;width:5.33px;background:#c050c0"></s><s style="left:476.00px;top:155.44px;width:5.33px;background:#8ed2d6"></s><s style="left:502.67px;top:155.44px;width:10.67px;background:#ffec00"></s><s style="left:513.33px;top:155.44px;width:5.33px;background:#8ed2d6"></s><s style="left:524.00px;top:155.44px;width:5.33px;background:#8ed2d6"></s><s style="left:529.33px;top:155.44px;width:5.33px;background:#ffec00"></s><s style="left:550.67px;top:155.44px;width:5.33px;background:#8ed2d6"></s><s style="left:566.67px;top:155.44px;width:5.33px;background:#3cb43c"></s><s style="left:572.00px;top:155.44px;width:32.00px;background:#8ed2d6"></s><s style="left:604.00px;top:155.44px;width:5.33px;background:#f0b040"></s><s style="left:609.33px;top:155.44px;width:16.00px;background:#8ed2d6"></s><s style="left:636.00px;top:155.44px;width:5.33px;background:#8ed2d6"></s><s style="left:641.33px;top:155.44px;width:5.33px;background:#f0b040"></s><s style="left:652.00px;top:155.44px;width:5.33px;background:#8ed2d6"></s><s style="left:662.67px;top:155.44px;width:5.33px;background:#ffec00"></s><s style="left:673.33px;top:155.44px;width:5.33px;background:#22b8c4"></s><s style="left:684.00px;top:155.44px;width:5.33px;background:#22b8c4"></s><s style="left:721.33px;top:155.44px;width:5.33px;background:#3cb43c"></s><s style="left:726.67px;top:155.44px;width:5.33px;background:#f0826a"></s><s style="left:732.00px;top:155.44px;width:10.67px;background:#3cb43c"></s><s style="left:742.67px;top:155.44px;width:5.33px;background:#22b8c4"></s><s style="left:748.00px;top:155.44px;width:5.33px;background:#8ed2d6"></s><s style="left:758.67px;top:155.44px;width:5.33px;background:#8ed2d6"></s><s style="left:769.33px;top:155.44px;width:5.33px;background:#3cb43c"></s><s style="left:774.67px;top:155.44px;width:5.33px;background:#ffec00"></s><s style="left:785.33px;top:155.44px;width:5.33px;background:#f0b040"></s><s style="left:316.00px;top:164.36px;width:5.33px;background:#8ed2d6"></s><s style="left:332.00px;top:164.36px;width:5.33px;background:#22b8c4"></s><s style="left:337.33px;top:164.36px;width:21.33px;background:#8ed2d6"></s><s style="left:358.67px;top:164.36px;width:5.33px;background:#3cb43c"></s><s style="left:364.00px;top:164.36px;width:5.33px;background:#f0b040"></s><s style="left:369.33px;top:164.36px;width:10.67px;background:#8ed2d6"></s><s style="left:385.33px;top:164.36px;width:26.67px;background:#8ed2d6"></s><s style="left:428.00px;top:164.36px;width:5.33px;background:#3cb43c"></s><s style="left:433.33px;top:164.36px;width:5.33px;background:#8ed2d6"></s><s style="left:449.33px;top:164.36px;width:5.33px;background:#3cb43c"></s><s style="left:454.67px;top:164.36px;width:5.33px;background:#8ed2d6"></s><s style="left:465.33px;top:164.36px;width:5.33px;background:#c050c0"></s><s style="left:508.00px;top:164.36px;width:5.33px;background:#3cb43c"></s><s style="left:513.33px;top:164.36px;width:5.33px;background:#ffec00"></s><s style="left:524.00px;top:164.36px;width:10.67px;background:#8ed2d6"></s><s style="left:550.67px;top:164.36px;width:5.33px;background:#22b8c4"></s><s style="left:556.00px;top:164.36px;width:5.33px;background:#8ed2d6"></s><s style="left:566.67px;top:164.36px;width:37.33px;background:#8ed2d6"></s><s style="left:604.00px;top:164.36px;width:5.33px;background:#22b8c4"></s><s style="left:609.33px;top:164.36px;width:5.33px;background:#8ed2d6"></s><s style="left:614.67px;top:164.36px;width:5.33px;background:#22b8c4"></s><s style="left:620.00px;top:164.36px;width:5.33px;background:#8ed2d6"></s><s style="left:636.00px;top:164.36px;width:5.33px;background:#3cb43c"></s><s style="left:652.00px;top:164.36px;width:5.33px;background:#8ed2d6"></s><s style="left:673.33px;top:164.36px;width:5.33px;background:#8ed2d6"></s><s style="left:684.00px;top:164.36px;width:5.33px;background:#22b8c4"></s><s style="left:700.00px;top:164.36px;width:5.33px;background:#ffec00"></s><s style="left:721.33px;top:164.36px;width:5.33px;background:#3cb43c"></s><s style="left:726.67px;top:164.36px;width:5.33px;background:#f0826a"></s><s style="left:742.67px;top:164.36px;width:5.33px;background:#22b8c4"></s><s style="left:748.00px;top:164.36px;width:5.33px;background:#8ed2d6"></s><s style="left:753.33px;top:164.36px;width:5.33px;background:#3cb43c"></s><s style="left:758.67px;top:164.36px;width:5.33px;background:#8ed2d6"></s><s style="left:764.00px;top:164.36px;width:5.33px;background:#f0b040"></s><s style="left:769.33px;top:164.36px;width:5.33px;background:#3cb43c"></s><s style="left:780.00px;top:164.36px;width:10.67px;background:#ffec00"></s><s style="left:812.00px;top:164.36px;width:5.33px;background:#3cb43c"></s><s style="left:294.67px;top:173.28px;width:5.33px;background:#8ed2d6"></s><s style="left:305.33px;top:173.28px;width:5.33px;background:#8ed2d6"></s><s style="left:316.00px;top:173.28px;width:5.33px;background:#8ed2d6"></s><s style="left:326.67px;top:173.28px;width:5.33px;background:#8ed2d6"></s><s style="left:332.00px;top:173.28px;width:5.33px;background:#22b8c4"></s><s style="left:337.33px;top:173.28px;width:5.33px;background:#8ed2d6"></s><s style="left:348.00px;top:173.28px;width:10.67px;background:#8ed2d6"></s><s style="left:364.00px;top:173.28px;width:5.33px;background:#f0b040"></s><s style="left:369.33px;top:173.28px;width:10.67px;background:#8ed2d6"></s><s style="left:385.33px;top:173.28px;width:21.33px;background:#8ed2d6"></s><s style="left:406.67px;top:173.28px;width:5.33px;background:#3cb43c"></s><s style="left:417.33px;top:173.28px;width:5.33px;background:#8ed2d6"></s><s style="left:422.67px;top:173.28px;width:5.33px;background:#f0826a"></s><s style="left:428.00px;top:173.28px;width:10.67px;background:#8ed2d6"></s><s style="left:449.33px;top:173.28px;width:5.33px;background:#3cb43c"></s><s style="left:454.67px;top:173.28px;width:5.33px;background:#8ed2d6"></s><s style="left:508.00px;top:173.28px;width:5.33px;background:#8ed2d6"></s><s style="left:513.33px;top:173.28px;width:10.67px;background:#ffec00"></s><s style="left:524.00px;top:173.28px;width:10.67px;background:#8ed2d6"></s><s style="left:550.67px;top:173.28px;width:5.33px;background:#8ed2d6"></s><s style="left:566.67px;top:173.28px;width:10.67px;background:#8ed2d6"></s><s style="left:577.33px;top:173.28px;width:5.33px;background:#3cb43c"></s><s style="left:582.67px;top:173.28px;width:5.33px;background:#8ed2d6"></s><s style="left:593.33px;top:173.28px;width:32.00px;background:#8ed2d6"></s><s style="left:636.00px;top:173.28px;width:5.33px;background:#8ed2d6"></s><s style="left:652.00px;top:173.28px;width:10.67px;background:#f0b040"></s><s style="left:673.33px;top:173.28px;width:5.33px;background:#8ed2d6"></s><s style="left:684.00px;top:173.28px;width:5.33px;background:#8ed2d6"></s><s style="left:694.67px;top:173.28px;width:5.33px;background:#ffec00"></s><s style="left:284.00px;top:182.20px;width:5.33px;background:#8ed2d6"></s><s style="left:289.33px;top:182.20px;width:5.33px;background:#ffec00"></s><s style="left:300.00px;top:182.20px;width:5.33px;background:#3cb43c"></s><s style="left:332.00px;top:182.20px;width:5.33px;background:#22b8c4"></s><s style="left:337.33px;top:182.20px;width:21.33px;background:#8ed2d6"></s><s style="left:358.67px;top:182.20px;width:5.33px;background:#3cb43c"></s><s style="left:364.00px;top:182.20px;width:5.33px;background:#f0b040"></s><s style="left:369.33px;top:182.20px;width:10.67px;background:#8ed2d6"></s><s style="left:385.33px;top:182.20px;width:16.00px;background:#8ed2d6"></s><s style="left:401.33px;top:182.20px;width:5.33px;background:#22b8c4"></s><s style="left:406.67px;top:182.20px;width:5.33px;background:#8ed2d6"></s><s style="left:422.67px;top:182.20px;width:10.67px;background:#3cb43c"></s><s style="left:433.33px;top:182.20px;width:5.33px;background:#8ed2d6"></s><s style="left:454.67px;top:182.20px;width:5.33px;background:#8ed2d6"></s><s style="left:465.33px;top:182.20px;width:5.33px;background:#c050c0"></s><s style="left:476.00px;top:182.20px;width:5.33px;background:#8ed2d6"></s><s style="left:508.00px;top:182.20px;width:5.33px;background:#8ed2d6"></s><s style="left:513.33px;top:182.20px;width:5.33px;background:#ffec00"></s><s style="left:524.00px;top:182.20px;width:5.33px;background:#8ed2d6"></s><s style="left:529.33px;top:182.20px;width:5.33px;background:#3cb43c"></s><s style="left:550.67px;top:182.20px;width:5.33px;background:#8ed2d6"></s><s style="left:556.00px;top:182.20px;width:5.33px;background:#3cb43c"></s><s style="left:566.67px;top:182.20px;width:37.33px;background:#8ed2d6"></s><s style="left:604.00px;top:182.20px;width:5.33px;background:#22b8c4"></s><s style="left:609.33px;top:182.20px;width:5.33px;background:#8ed2d6"></s><s style="left:614.67px;top:182.20px;width:5.33px;background:#22b8c4"></s><s style="left:620.00px;top:182.20px;width:5.33px;background:#3cb43c"></s><s style="left:636.00px;top:182.20px;width:5.33px;background:#3cb43c"></s><s style="left:652.00px;top:182.20px;width:5.33px;background:#8ed2d6"></s><s style="left:657.33px;top:182.20px;width:5.33px;background:#ffec00"></s><s style="left:673.33px;top:182.20px;width:5.33px;background:#3cb43c"></s><s style="left:684.00px;top:182.20px;width:5.33px;background:#ffec00"></s><s style="left:694.67px;top:182.20px;width:5.33px;background:#3cb43c"></s><s style="left:721.33px;top:182.20px;width:5.33px;background:#3cb43c"></s><s style="left:726.67px;top:182.20px;width:5.33px;background:#f0826a"></s><s style="left:742.67px;top:182.20px;width:5.33px;background:#22b8c4"></s><s style="left:748.00px;top:182.20px;width:5.33px;background:#8ed2d6"></s><s style="left:758.67px;top:182.20px;width:5.33px;background:#8ed2d6"></s><s style="left:764.00px;top:182.20px;width:5.33px;background:#f0b040"></s><s style="left:769.33px;top:182.20px;width:5.33px;background:#3cb43c"></s><s style="left:780.00px;top:182.20px;width:5.33px;background:#ffec00"></s><s style="left:300.00px;top:191.12px;width:5.33px;background:#8ed2d6"></s><s style="left:316.00px;top:191.12px;width:5.33px;background:#ffec00"></s><s style="left:326.67px;top:191.12px;width:5.33px;background:#8ed2d6"></s><s style="left:332.00px;top:191.12px;width:5.33px;background:#22b8c4"></s><s style="left:337.33px;top:191.12px;width:21.33px;background:#8ed2d6"></s><s style="left:358.67px;top:191.12px;width:5.33px;background:#3cb43c"></s><s style="left:369.33px;top:191.12px;width:10.67px;background:#8ed2d6"></s><s style="left:385.33px;top:191.12px;width:5.33px;background:#3cb43c"></s><s style="left:396.00px;top:191.12px;width:16.00px;background:#8ed2d6"></s><s style="left:417.33px;top:191.12px;width:5.33px;background:#8ed2d6"></s><s style="left:428.00px;top:191.12px;width:10.67px;background:#8ed2d6"></s><s style="left:449.33px;top:191.12px;width:5.33px;background:#3cb43c"></s><s style="left:454.67px;top:191.12px;width:5.33px;background:#8ed2d6"></s><s style="left:497.33px;top:191.12px;width:5.33px;background:#8ed2d6"></s><s style="left:508.00px;top:191.12px;width:5.33px;background:#ffec00"></s><s style="left:518.67px;top:191.12px;width:5.33px;background:#ffec00"></s><s style="left:524.00px;top:191.12px;width:5.33px;background:#22b8c4"></s><s style="left:529.33px;top:191.12px;width:5.33px;background:#8ed2d6"></s><s style="left:550.67px;top:191.12px;width:5.33px;background:#22b8c4"></s><s style="left:556.00px;top:191.12px;width:5.33px;background:#ffec00"></s><s style="left:566.67px;top:191.12px;width:58.67px;background:#8ed2d6"></s><s style="left:636.00px;top:191.12px;width:5.33px;background:#8ed2d6"></s><s style="left:657.33px;top:191.12px;width:5.33px;background:#f0b040"></s><s style="left:673.33px;top:191.12px;width:5.33px;background:#22b8c4"></s><s style="left:684.00px;top:191.12px;width:5.33px;background:#22b8c4"></s><s style="left:694.67px;top:191.12px;width:5.33px;background:#22b8c4"></s><s style="left:721.33px;top:191.12px;width:5.33px;background:#3cb43c"></s><s style="left:742.67px;top:191.12px;width:10.67px;background:#8ed2d6"></s><s style="left:753.33px;top:191.12px;width:5.33px;background:#3cb43c"></s><s style="left:758.67px;top:191.12px;width:5.33px;background:#8ed2d6"></s><s style="left:774.67px;top:191.12px;width:5.33px;background:#f0b040"></s><s style="left:785.33px;top:191.12px;width:10.67px;background:#f0b040"></s><s style="left:801.33px;top:191.12px;width:5.33px;background:#f0b040"></s><s style="left:401.33px;top:200.04px;width:10.67px;background:#8ed2d6"></s><s style="left:417.33px;top:200.04px;width:5.33px;background:#f0b040"></s><s style="left:422.67px;top:200.04px;width:5.33px;background:#f0826a"></s><s style="left:428.00px;top:200.04px;width:5.33px;background:#8ed2d6"></s><s style="left:433.33px;top:200.04px;width:5.33px;background:#22b8c4"></s><s style="left:444.00px;top:200.04px;width:5.33px;background:#ffec00"></s><s style="left:513.33px;top:200.04px;width:5.33px;background:#ffec00"></s><s style="left:524.00px;top:200.04px;width:5.33px;background:#8ed2d6"></s><s style="left:529.33px;top:200.04px;width:5.33px;background:#f0b040"></s><s style="left:534.67px;top:200.04px;width:5.33px;background:#ffec00"></s><s style="left:550.67px;top:200.04px;width:10.67px;background:#8ed2d6"></s><s style="left:566.67px;top:200.04px;width:53.33px;background:#8ed2d6"></s><s style="left:620.00px;top:200.04px;width:5.33px;background:#3cb43c"></s><s style="left:636.00px;top:200.04px;width:5.33px;background:#8ed2d6"></s><s style="left:652.00px;top:200.04px;width:5.33px;background:#8ed2d6"></s><s style="left:657.33px;top:200.04px;width:5.33px;background:#ffec00"></s><s style="left:673.33px;top:200.04px;width:5.33px;background:#8ed2d6"></s><s style="left:678.67px;top:200.04px;width:5.33px;background:#ffec00"></s><s style="left:694.67px;top:200.04px;width:5.33px;background:#22b8c4"></s><s style="left:742.67px;top:200.04px;width:5.33px;background:#22b8c4"></s><s style="left:758.67px;top:200.04px;width:5.33px;background:#8ed2d6"></s><s style="left:401.33px;top:208.96px;width:10.67px;background:#8ed2d6"></s><s style="left:417.33px;top:208.96px;width:5.33px;background:#f0b040"></s><s style="left:428.00px;top:208.96px;width:5.33px;background:#8ed2d6"></s><s style="left:433.33px;top:208.96px;width:5.33px;background:#22b8c4"></s><s style="left:444.00px;top:208.96px;width:5.33px;background:#ffec00"></s><s style="left:513.33px;top:208.96px;width:5.33px;background:#ffec00"></s><s style="left:524.00px;top:208.96px;width:10.67px;background:#8ed2d6"></s><s style="left:534.67px;top:208.96px;width:5.33px;background:#ffec00"></s><s style="left:550.67px;top:208.96px;width:10.67px;background:#8ed2d6"></s><s style="left:566.67px;top:208.96px;width:58.67px;background:#8ed2d6"></s><s style="left:636.00px;top:208.96px;width:5.33px;background:#3cb43c"></s><s style="left:652.00px;top:208.96px;width:5.33px;background:#f0b040"></s><s style="left:657.33px;top:208.96px;width:5.33px;background:#ffec00"></s><s style="left:673.33px;top:208.96px;width:5.33px;background:#8ed2d6"></s><s style="left:678.67px;top:208.96px;width:10.67px;background:#ffec00"></s><s style="left:694.67px;top:208.96px;width:5.33px;background:#22b8c4"></s><s style="left:742.67px;top:208.96px;width:5.33px;background:#22b8c4"></s><s style="left:758.67px;top:208.96px;width:5.33px;background:#8ed2d6"></s><svg style="position:absolute;left:0;top:0" width="858" height="230"><path stroke="#979797" stroke-width="1.5" fill="none" d="M172.10 8.10h2.5M177.43 8.10h2.5M182.77 8.10h2.5M188.10 8.10h2.5M193.43 8.10h2.5M198.77 8.10h2.5M204.10 8.10h2.5M209.43 8.10h2.5M214.77 8.10h2.5M220.10 8.10h2.5M225.43 8.10h2.5M230.77 8.10h2.5M236.10 8.10h2.5M241.43 8.10h2.5M246.77 8.10h2.5M252.10 8.10h2.5M257.43 8.10h2.5M262.77 8.10h2.5M268.10 8.10h2.5M273.43 8.10h2.5M278.77 8.10h2.5M284.10 8.10h2.5M289.43 8.10h2.5M294.77 8.10h2.5M300.10 8.10h2.5M305.43 8.10h2.5M310.77 8.10h2.5M316.10 8.10h2.5M321.43 8.10h2.5M326.77 8.10h2.5M332.10 8.10h2.5M337.43 8.10h2.5M342.77 8.10h2.5M348.10 8.10h2.5M353.43 8.10h2.5M358.77 8.10h2.5M364.10 8.10h2.5M369.43 8.10h2.5M374.77 8.10h2.5M380.10 8.10h2.5M385.43 8.10h2.5M390.77 8.10h2.5M396.10 8.10h2.5M465.43 8.10h2.5M470.77 8.10h2.5M476.10 8.10h2.5M481.43 8.10h2.5M486.77 8.10h2.5M492.10 8.10h2.5M497.43 8.10h2.5M502.77 8.10h2.5M508.10 8.10h2.5M513.43 8.10h2.5M540.10 8.10h2.5M545.43 8.10h2.5M641.43 8.10h2.5M822.77 8.10h2.5M828.10 8.10h2.5M833.43 8.10h2.5M172.10 17.02h2.5M177.43 17.02h2.5M182.77 17.02h2.5M188.10 17.02h2.5M193.43 17.02h2.5M198.77 17.02h2.5M204.10 17.02h2.5M209.43 17.02h2.5M214.77 17.02h2.5M220.10 17.02h2.5M225.43 17.02h2.5M230.77 17.02h2.5M236.10 17.02h2.5M241.43 17.02h2.5M246.77 17.02h2.5M252.10 17.02h2.5M257.43 17.02h2.5M262.77 17.02h2.5M268.10 17.02h2.5M273.43 17.02h2.5M278.77 17.02h2.5M284.10 17.02h2.5M289.43 17.02h2.5M294.77 17.02h2.5M300.10 17.02h2.5M305.43 17.02h2.5M310.77 17.02h2.5M316.10 17.02h2.5M321.43 17.02h2.5M326.77 17.02h2.5M332.10 17.02h2.5M337.43 17.02h2.5M342.77 17.02h2.5M348.10 17.02h2.5M353.43 17.02h2.5M358.77 17.02h2.5M364.10 17.02h2.5M369.43 17.02h2.5M374.77 17.02h2.5M380.10 17.02h2.5M385.43 17.02h2.5M390.77 17.02h2.5M396.10 17.02h2.5M401.43 17.02h2.5M406.77 17.02h2.5M465.43 17.02h2.5M470.77 17.02h2.5M476.10 17.02h2.5M481.43 17.02h2.5M486.77 17.02h2.5M492.10 17.02h2.5M497.43 17.02h2.5M502.77 17.02h2.5M508.10 17.02h2.5M513.43 17.02h2.5M540.10 17.02h2.5M545.43 17.02h2.5M641.43 17.02h2.5M780.10 17.02h2.5M785.43 17.02h2.5M790.77 17.02h2.5M796.10 17.02h2.5M801.43 17.02h2.5M806.77 17.02h2.5M812.10 17.02h2.5M817.43 17.02h2.5M822.77 17.02h2.5M828.10 17.02h2.5M833.43 17.02h2.5M172.10 25.94h2.5M177.43 25.94h2.5M182.77 25.94h2.5M188.10 25.94h2.5M193.43 25.94h2.5M198.77 25.94h2.5M204.10 25.94h2.5M209.43 25.94h2.5M214.77 25.94h2.5M220.10 25.94h2.5M225.43 25.94h2.5M230.77 25.94h2.5M236.10 25.94h2.5M241.43 25.94h2.5M246.77 25.94h2.5M252.10 25.94h2.5M257.43 25.94h2.5M262.77 25.94h2.5M268.10 25.94h2.5M273.43 25.94h2.5M278.77 25.94h2.5M284.10 25.94h2.5M289.43 25.94h2.5M294.77 25.94h2.5M300.10 25.94h2.5M305.43 25.94h2.5M310.77 25.94h2.5M316.10 25.94h2.5M321.43 25.94h2.5M326.77 25.94h2.5M332.10 25.94h2.5M337.43 25.94h2.5M342.77 25.94h2.5M348.10 25.94h2.5M353.43 25.94h2.5M358.77 25.94h2.5M364.10 25.94h2.5M369.43 25.94h2.5M374.77 25.94h2.5M380.10 25.94h2.5M385.43 25.94h2.5M390.77 25.94h2.5M396.10 25.94h2.5M465.43 25.94h2.5M470.77 25.94h2.5M476.10 25.94h2.5M481.43 25.94h2.5M486.77 25.94h2.5M492.10 25.94h2.5M497.43 25.94h2.5M502.77 25.94h2.5M508.10 25.94h2.5M513.43 25.94h2.5M534.77 25.94h2.5M540.10 25.94h2.5M545.43 25.94h2.5M641.43 25.94h2.5M822.77 25.94h2.5M828.10 25.94h2.5M833.43 25.94h2.5M172.10 34.86h2.5M177.43 34.86h2.5M182.77 34.86h2.5M188.10 34.86h2.5M193.43 34.86h2.5M198.77 34.86h2.5M204.10 34.86h2.5M209.43 34.86h2.5M214.77 34.86h2.5M220.10 34.86h2.5M225.43 34.86h2.5M230.77 34.86h2.5M236.10 34.86h2.5M241.43 34.86h2.5M246.77 34.86h2.5M252.10 34.86h2.5M257.43 34.86h2.5M262.77 34.86h2.5M268.10 34.86h2.5M273.43 34.86h2.5M278.77 34.86h2.5M284.10 34.86h2.5M289.43 34.86h2.5M294.77 34.86h2.5M300.10 34.86h2.5M305.43 34.86h2.5M310.77 34.86h2.5M316.10 34.86h2.5M321.43 34.86h2.5M326.77 34.86h2.5M332.10 34.86h2.5M337.43 34.86h2.5M342.77 34.86h2.5M348.10 34.86h2.5M353.43 34.86h2.5M358.77 34.86h2.5M364.10 34.86h2.5M369.43 34.86h2.5M374.77 34.86h2.5M380.10 34.86h2.5M385.43 34.86h2.5M390.77 34.86h2.5M396.10 34.86h2.5M460.10 34.86h2.5M465.43 34.86h2.5M470.77 34.86h2.5M476.10 34.86h2.5M481.43 34.86h2.5M486.77 34.86h2.5M492.10 34.86h2.5M497.43 34.86h2.5M502.77 34.86h2.5M508.10 34.86h2.5M513.43 34.86h2.5M534.77 34.86h2.5M540.10 34.86h2.5M545.43 34.86h2.5M774.77 34.86h2.5M780.10 34.86h2.5M785.43 34.86h2.5M790.77 34.86h2.5M796.10 34.86h2.5M801.43 34.86h2.5M806.77 34.86h2.5M812.10 34.86h2.5M817.43 34.86h2.5M822.77 34.86h2.5M828.10 34.86h2.5M833.43 34.86h2.5M172.10 43.78h2.5M177.43 43.78h2.5M182.77 43.78h2.5M188.10 43.78h2.5M193.43 43.78h2.5M198.77 43.78h2.5M204.10 43.78h2.5M209.43 43.78h2.5M214.77 43.78h2.5M220.10 43.78h2.5M225.43 43.78h2.5M230.77 43.78h2.5M236.10 43.78h2.5M241.43 43.78h2.5M246.77 43.78h2.5M252.10 43.78h2.5M257.43 43.78h2.5M262.77 43.78h2.5M268.10 43.78h2.5M273.43 43.78h2.5M278.77 43.78h2.5M284.10 43.78h2.5M289.43 43.78h2.5M294.77 43.78h2.5M300.10 43.78h2.5M305.43 43.78h2.5M310.77 43.78h2.5M316.10 43.78h2.5M321.43 43.78h2.5M326.77 43.78h2.5M332.10 43.78h2.5M337.43 43.78h2.5M342.77 43.78h2.5M348.10 43.78h2.5M353.43 43.78h2.5M358.77 43.78h2.5M364.10 43.78h2.5M369.43 43.78h2.5M374.77 43.78h2.5M380.10 43.78h2.5M385.43 43.78h2.5M390.77 43.78h2.5M396.10 43.78h2.5M460.10 43.78h2.5M465.43 43.78h2.5M470.77 43.78h2.5M476.10 43.78h2.5M481.43 43.78h2.5M486.77 43.78h2.5M492.10 43.78h2.5M497.43 43.78h2.5M502.77 43.78h2.5M508.10 43.78h2.5M513.43 43.78h2.5M534.77 43.78h2.5M540.10 43.78h2.5M545.43 43.78h2.5M774.77 43.78h2.5M780.10 43.78h2.5M785.43 43.78h2.5M790.77 43.78h2.5M796.10 43.78h2.5M801.43 43.78h2.5M806.77 43.78h2.5M812.10 43.78h2.5M817.43 43.78h2.5M822.77 43.78h2.5M828.10 43.78h2.5M833.43 43.78h2.5M172.10 52.70h2.5M177.43 52.70h2.5M182.77 52.70h2.5M188.10 52.70h2.5M193.43 52.70h2.5M198.77 52.70h2.5M204.10 52.70h2.5M209.43 52.70h2.5M214.77 52.70h2.5M220.10 52.70h2.5M225.43 52.70h2.5M230.77 52.70h2.5M236.10 52.70h2.5M241.43 52.70h2.5M246.77 52.70h2.5M252.10 52.70h2.5M257.43 52.70h2.5M262.77 52.70h2.5M268.10 52.70h2.5M273.43 52.70h2.5M278.77 52.70h2.5M284.10 52.70h2.5M289.43 52.70h2.5M294.77 52.70h2.5M300.10 52.70h2.5M305.43 52.70h2.5M310.77 52.70h2.5M316.10 52.70h2.5M321.43 52.70h2.5M326.77 52.70h2.5M332.10 52.70h2.5M337.43 52.70h2.5M342.77 52.70h2.5M348.10 52.70h2.5M353.43 52.70h2.5M358.77 52.70h2.5M364.10 52.70h2.5M369.43 52.70h2.5M374.77 52.70h2.5M380.10 52.70h2.5M385.43 52.70h2.5M390.77 52.70h2.5M396.10 52.70h2.5M401.43 52.70h2.5M460.10 52.70h2.5M465.43 52.70h2.5M470.77 52.70h2.5M476.10 52.70h2.5M481.43 52.70h2.5M486.77 52.70h2.5M492.10 52.70h2.5M497.43 52.70h2.5M502.77 52.70h2.5M508.10 52.70h2.5M513.43 52.70h2.5M540.10 52.70h2.5M545.43 52.70h2.5M774.77 52.70h2.5M780.10 52.70h2.5M785.43 52.70h2.5M790.77 52.70h2.5M796.10 52.70h2.5M801.43 52.70h2.5M806.77 52.70h2.5M812.10 52.70h2.5M817.43 52.70h2.5M822.77 52.70h2.5M828.10 52.70h2.5M833.43 52.70h2.5M172.10 61.62h2.5M177.43 61.62h2.5M182.77 61.62h2.5M188.10 61.62h2.5M193.43 61.62h2.5M198.77 61.62h2.5M204.10 61.62h2.5M209.43 61.62h2.5M214.77 61.62h2.5M220.10 61.62h2.5M225.43 61.62h2.5M230.77 61.62h2.5M236.10 61.62h2.5M241.43 61.62h2.5M246.77 61.62h2.5M252.10 61.62h2.5M257.43 61.62h2.5M262.77 61.62h2.5M268.10 61.62h2.5M273.43 61.62h2.5M278.77 61.62h2.5M284.10 61.62h2.5M289.43 61.62h2.5M294.77 61.62h2.5M300.10 61.62h2.5M305.43 61.62h2.5M310.77 61.62h2.5M316.10 61.62h2.5M321.43 61.62h2.5M326.77 61.62h2.5M332.10 61.62h2.5M337.43 61.62h2.5M342.77 61.62h2.5M348.10 61.62h2.5M353.43 61.62h2.5M358.77 61.62h2.5M364.10 61.62h2.5M369.43 61.62h2.5M374.77 61.62h2.5M380.10 61.62h2.5M385.43 61.62h2.5M390.77 61.62h2.5M396.10 61.62h2.5M460.10 61.62h2.5M465.43 61.62h2.5M470.77 61.62h2.5M476.10 61.62h2.5M481.43 61.62h2.5M486.77 61.62h2.5M492.10 61.62h2.5M497.43 61.62h2.5M502.77 61.62h2.5M508.10 61.62h2.5M513.43 61.62h2.5M534.77 61.62h2.5M540.10 61.62h2.5M545.43 61.62h2.5M785.43 61.62h2.5M790.77 61.62h2.5M796.10 61.62h2.5M801.43 61.62h2.5M806.77 61.62h2.5M812.10 61.62h2.5M817.43 61.62h2.5M822.77 61.62h2.5M828.10 61.62h2.5M833.43 61.62h2.5M172.10 70.54h2.5M177.43 70.54h2.5M182.77 70.54h2.5M188.10 70.54h2.5M193.43 70.54h2.5M198.77 70.54h2.5M204.10 70.54h2.5M209.43 70.54h2.5M214.77 70.54h2.5M220.10 70.54h2.5M225.43 70.54h2.5M230.77 70.54h2.5M236.10 70.54h2.5M241.43 70.54h2.5M481.43 70.54h2.5M172.10 79.46h2.5M177.43 79.46h2.5M182.77 79.46h2.5M188.10 79.46h2.5M193.43 79.46h2.5M198.77 79.46h2.5M204.10 79.46h2.5M209.43 79.46h2.5M214.77 79.46h2.5M220.10 79.46h2.5M225.43 79.46h2.5M230.77 79.46h2.5M236.10 79.46h2.5M241.43 79.46h2.5M246.77 79.46h2.5M252.10 79.46h2.5M257.43 79.46h2.5M262.77 79.46h2.5M268.10 79.46h2.5M273.43 79.46h2.5M278.77 79.46h2.5M284.10 79.46h2.5M289.43 79.46h2.5M294.77 79.46h2.5M300.10 79.46h2.5M305.43 79.46h2.5M310.77 79.46h2.5M316.10 79.46h2.5M321.43 79.46h2.5M326.77 79.46h2.5M332.10 79.46h2.5M337.43 79.46h2.5M342.77 79.46h2.5M348.10 79.46h2.5M353.43 79.46h2.5M358.77 79.46h2.5M364.10 79.46h2.5M369.43 79.46h2.5M374.77 79.46h2.5M380.10 79.46h2.5M385.43 79.46h2.5M390.77 79.46h2.5M396.10 79.46h2.5M433.43 79.46h2.5M465.43 79.46h2.5M470.77 79.46h2.5M476.10 79.46h2.5M481.43 79.46h2.5M486.77 79.46h2.5M492.10 79.46h2.5M497.43 79.46h2.5M502.77 79.46h2.5M508.10 79.46h2.5M513.43 79.46h2.5M540.10 79.46h2.5M545.43 79.46h2.5M796.10 79.46h2.5M801.43 79.46h2.5M806.77 79.46h2.5M812.10 79.46h2.5M817.43 79.46h2.5M822.77 79.46h2.5M828.10 79.46h2.5M833.43 79.46h2.5M172.10 88.38h2.5M177.43 88.38h2.5M182.77 88.38h2.5M188.10 88.38h2.5M193.43 88.38h2.5M198.77 88.38h2.5M204.10 88.38h2.5M209.43 88.38h2.5M214.77 88.38h2.5M220.10 88.38h2.5M225.43 88.38h2.5M230.77 88.38h2.5M236.10 88.38h2.5M241.43 88.38h2.5M246.77 88.38h2.5M252.10 88.38h2.5M257.43 88.38h2.5M262.77 88.38h2.5M268.10 88.38h2.5M273.43 88.38h2.5M278.77 88.38h2.5M284.10 88.38h2.5M289.43 88.38h2.5M294.77 88.38h2.5M300.10 88.38h2.5M305.43 88.38h2.5M310.77 88.38h2.5M316.10 88.38h2.5M321.43 88.38h2.5M326.77 88.38h2.5M332.10 88.38h2.5M337.43 88.38h2.5M342.77 88.38h2.5M348.10 88.38h2.5M353.43 88.38h2.5M358.77 88.38h2.5M364.10 88.38h2.5M369.43 88.38h2.5M374.77 88.38h2.5M380.10 88.38h2.5M385.43 88.38h2.5M390.77 88.38h2.5M396.10 88.38h2.5M422.77 88.38h2.5M428.10 88.38h2.5M433.43 88.38h2.5M465.43 88.38h2.5M470.77 88.38h2.5M476.10 88.38h2.5M481.43 88.38h2.5M486.77 88.38h2.5M492.10 88.38h2.5M497.43 88.38h2.5M502.77 88.38h2.5M508.10 88.38h2.5M513.43 88.38h2.5M540.10 88.38h2.5M545.43 88.38h2.5M678.77 88.38h2.5M790.77 88.38h2.5M796.10 88.38h2.5M801.43 88.38h2.5M806.77 88.38h2.5M812.10 88.38h2.5M817.43 88.38h2.5M822.77 88.38h2.5M828.10 88.38h2.5M833.43 88.38h2.5M172.10 97.30h2.5M177.43 97.30h2.5M182.77 97.30h2.5M188.10 97.30h2.5M193.43 97.30h2.5M198.77 97.30h2.5M204.10 97.30h2.5M209.43 97.30h2.5M214.77 97.30h2.5M220.10 97.30h2.5M225.43 97.30h2.5M230.77 97.30h2.5M236.10 97.30h2.5M241.43 97.30h2.5M246.77 97.30h2.5M252.10 97.30h2.5M257.43 97.30h2.5M262.77 97.30h2.5M268.10 97.30h2.5M273.43 97.30h2.5M278.77 97.30h2.5M284.10 97.30h2.5M289.43 97.30h2.5M294.77 97.30h2.5M460.10 97.30h2.5M465.43 97.30h2.5M470.77 97.30h2.5M476.10 97.30h2.5M481.43 97.30h2.5M486.77 97.30h2.5M492.10 97.30h2.5M540.10 97.30h2.5M545.43 97.30h2.5M796.10 97.30h2.5M801.43 97.30h2.5M806.77 97.30h2.5M812.10 97.30h2.5M817.43 97.30h2.5M822.77 97.30h2.5M828.10 97.30h2.5M833.43 97.30h2.5M172.10 106.22h2.5M177.43 106.22h2.5M182.77 106.22h2.5M188.10 106.22h2.5M193.43 106.22h2.5M198.77 106.22h2.5M204.10 106.22h2.5M209.43 106.22h2.5M214.77 106.22h2.5M220.10 106.22h2.5M225.43 106.22h2.5M230.77 106.22h2.5M236.10 106.22h2.5M241.43 106.22h2.5M246.77 106.22h2.5M252.10 106.22h2.5M257.43 106.22h2.5M262.77 106.22h2.5M268.10 106.22h2.5M273.43 106.22h2.5M278.77 106.22h2.5M284.10 106.22h2.5M289.43 106.22h2.5M294.77 106.22h2.5M460.10 106.22h2.5M465.43 106.22h2.5M470.77 106.22h2.5M476.10 106.22h2.5M481.43 106.22h2.5M486.77 106.22h2.5M492.10 106.22h2.5M540.10 106.22h2.5M545.43 106.22h2.5M796.10 106.22h2.5M801.43 106.22h2.5M806.77 106.22h2.5M812.10 106.22h2.5M817.43 106.22h2.5M822.77 106.22h2.5M828.10 106.22h2.5M833.43 106.22h2.5M172.10 115.14h2.5M177.43 115.14h2.5M182.77 115.14h2.5M188.10 115.14h2.5M193.43 115.14h2.5M198.77 115.14h2.5M204.10 115.14h2.5M209.43 115.14h2.5M214.77 115.14h2.5M220.10 115.14h2.5M225.43 115.14h2.5M230.77 115.14h2.5M236.10 115.14h2.5M241.43 115.14h2.5M246.77 115.14h2.5M252.10 115.14h2.5M257.43 115.14h2.5M262.77 115.14h2.5M268.10 115.14h2.5M273.43 115.14h2.5M278.77 115.14h2.5M284.10 115.14h2.5M289.43 115.14h2.5M294.77 115.14h2.5M481.43 115.14h2.5M486.77 115.14h2.5M540.10 115.14h2.5M545.43 115.14h2.5M790.77 115.14h2.5M796.10 115.14h2.5M801.43 115.14h2.5M806.77 115.14h2.5M812.10 115.14h2.5M817.43 115.14h2.5M822.77 115.14h2.5M828.10 115.14h2.5M833.43 115.14h2.5M460.10 124.06h2.5M465.43 124.06h2.5M470.77 124.06h2.5M476.10 124.06h2.5M481.43 124.06h2.5M486.77 124.06h2.5M492.10 124.06h2.5M540.10 124.06h2.5M545.43 124.06h2.5M785.43 124.06h2.5M790.77 124.06h2.5M796.10 124.06h2.5M801.43 124.06h2.5M806.77 124.06h2.5M812.10 124.06h2.5M817.43 124.06h2.5M822.77 124.06h2.5M828.10 124.06h2.5M833.43 124.06h2.5M172.10 132.98h2.5M177.43 132.98h2.5M182.77 132.98h2.5M188.10 132.98h2.5M193.43 132.98h2.5M198.77 132.98h2.5M204.10 132.98h2.5M209.43 132.98h2.5M214.77 132.98h2.5M220.10 132.98h2.5M225.43 132.98h2.5M230.77 132.98h2.5M236.10 132.98h2.5M241.43 132.98h2.5M246.77 132.98h2.5M252.10 132.98h2.5M257.43 132.98h2.5M262.77 132.98h2.5M268.10 132.98h2.5M273.43 132.98h2.5M278.77 132.98h2.5M321.43 132.98h2.5M326.77 132.98h2.5M332.10 132.98h2.5M337.43 132.98h2.5M342.77 132.98h2.5M348.10 132.98h2.5M353.43 132.98h2.5M358.77 132.98h2.5M481.43 132.98h2.5M540.10 132.98h2.5M545.43 132.98h2.5M796.10 132.98h2.5M801.43 132.98h2.5M806.77 132.98h2.5M812.10 132.98h2.5M817.43 132.98h2.5M822.77 132.98h2.5M828.10 132.98h2.5M833.43 132.98h2.5M172.10 141.90h2.5M177.43 141.90h2.5M182.77 141.90h2.5M188.10 141.90h2.5M193.43 141.90h2.5M198.77 141.90h2.5M204.10 141.90h2.5M209.43 141.90h2.5M214.77 141.90h2.5M220.10 141.90h2.5M225.43 141.90h2.5M230.77 141.90h2.5M236.10 141.90h2.5M241.43 141.90h2.5M246.77 141.90h2.5M252.10 141.90h2.5M257.43 141.90h2.5M262.77 141.90h2.5M268.10 141.90h2.5M273.43 141.90h2.5M278.77 141.90h2.5M540.10 141.90h2.5M545.43 141.90h2.5M796.10 141.90h2.5M801.43 141.90h2.5M806.77 141.90h2.5M812.10 141.90h2.5M817.43 141.90h2.5M822.77 141.90h2.5M828.10 141.90h2.5M833.43 141.90h2.5M172.10 150.82h2.5M177.43 150.82h2.5M182.77 150.82h2.5M188.10 150.82h2.5M193.43 150.82h2.5M198.77 150.82h2.5M204.10 150.82h2.5M209.43 150.82h2.5M214.77 150.82h2.5M220.10 150.82h2.5M225.43 150.82h2.5M230.77 150.82h2.5M236.10 150.82h2.5M241.43 150.82h2.5M246.77 150.82h2.5M252.10 150.82h2.5M257.43 150.82h2.5M262.77 150.82h2.5M268.10 150.82h2.5M273.43 150.82h2.5M278.77 150.82h2.5M284.10 150.82h2.5M289.43 150.82h2.5M321.43 150.82h2.5M326.77 150.82h2.5M332.10 150.82h2.5M337.43 150.82h2.5M342.77 150.82h2.5M348.10 150.82h2.5M353.43 150.82h2.5M358.77 150.82h2.5M481.43 150.82h2.5M486.77 150.82h2.5M492.10 150.82h2.5M497.43 150.82h2.5M540.10 150.82h2.5M545.43 150.82h2.5M785.43 150.82h2.5M790.77 150.82h2.5M796.10 150.82h2.5M801.43 150.82h2.5M806.77 150.82h2.5M812.10 150.82h2.5M817.43 150.82h2.5M822.77 150.82h2.5M828.10 150.82h2.5M833.43 150.82h2.5M172.10 159.74h2.5M177.43 159.74h2.5M182.77 159.74h2.5M188.10 159.74h2.5M193.43 159.74h2.5M198.77 159.74h2.5M204.10 159.74h2.5M209.43 159.74h2.5M214.77 159.74h2.5M220.10 159.74h2.5M225.43 159.74h2.5M230.77 159.74h2.5M236.10 159.74h2.5M241.43 159.74h2.5M246.77 159.74h2.5M252.10 159.74h2.5M257.43 159.74h2.5M262.77 159.74h2.5M268.10 159.74h2.5M321.43 159.74h2.5M326.77 159.74h2.5M332.10 159.74h2.5M337.43 159.74h2.5M342.77 159.74h2.5M348.10 159.74h2.5M353.43 159.74h2.5M358.77 159.74h2.5M481.43 159.74h2.5M486.77 159.74h2.5M492.10 159.74h2.5M497.43 159.74h2.5M540.10 159.74h2.5M545.43 159.74h2.5M790.77 159.74h2.5M796.10 159.74h2.5M801.43 159.74h2.5M806.77 159.74h2.5M812.10 159.74h2.5M817.43 159.74h2.5M822.77 159.74h2.5M828.10 159.74h2.5M833.43 159.74h2.5M172.10 168.66h2.5M177.43 168.66h2.5M182.77 168.66h2.5M188.10 168.66h2.5M193.43 168.66h2.5M198.77 168.66h2.5M204.10 168.66h2.5M209.43 168.66h2.5M214.77 168.66h2.5M220.10 168.66h2.5M225.43 168.66h2.5M230.77 168.66h2.5M236.10 168.66h2.5M241.43 168.66h2.5M246.77 168.66h2.5M252.10 168.66h2.5M257.43 168.66h2.5M262.77 168.66h2.5M268.10 168.66h2.5M273.43 168.66h2.5M278.77 168.66h2.5M284.10 168.66h2.5M289.43 168.66h2.5M294.77 168.66h2.5M300.10 168.66h2.5M305.43 168.66h2.5M310.77 168.66h2.5M481.43 168.66h2.5M486.77 168.66h2.5M492.10 168.66h2.5M497.43 168.66h2.5M502.77 168.66h2.5M540.10 168.66h2.5M545.43 168.66h2.5M822.77 168.66h2.5M828.10 168.66h2.5M833.43 168.66h2.5M172.10 177.58h2.5M177.43 177.58h2.5M182.77 177.58h2.5M188.10 177.58h2.5M193.43 177.58h2.5M198.77 177.58h2.5M204.10 177.58h2.5M209.43 177.58h2.5M214.77 177.58h2.5M220.10 177.58h2.5M225.43 177.58h2.5M230.77 177.58h2.5M236.10 177.58h2.5M241.43 177.58h2.5M246.77 177.58h2.5M252.10 177.58h2.5M257.43 177.58h2.5M262.77 177.58h2.5M268.10 177.58h2.5M273.43 177.58h2.5M278.77 177.58h2.5M284.10 177.58h2.5M289.43 177.58h2.5M476.10 177.58h2.5M481.43 177.58h2.5M486.77 177.58h2.5M492.10 177.58h2.5M540.10 177.58h2.5M545.43 177.58h2.5M716.10 177.58h2.5M721.43 177.58h2.5M726.77 177.58h2.5M732.10 177.58h2.5M737.43 177.58h2.5M742.77 177.58h2.5M748.10 177.58h2.5M753.43 177.58h2.5M758.77 177.58h2.5M764.10 177.58h2.5M769.43 177.58h2.5M774.77 177.58h2.5M780.10 177.58h2.5M785.43 177.58h2.5M790.77 177.58h2.5M796.10 177.58h2.5M801.43 177.58h2.5M806.77 177.58h2.5M812.10 177.58h2.5M817.43 177.58h2.5M822.77 177.58h2.5M828.10 177.58h2.5M833.43 177.58h2.5M172.10 186.50h2.5M177.43 186.50h2.5M182.77 186.50h2.5M188.10 186.50h2.5M193.43 186.50h2.5M198.77 186.50h2.5M204.10 186.50h2.5M209.43 186.50h2.5M214.77 186.50h2.5M220.10 186.50h2.5M225.43 186.50h2.5M230.77 186.50h2.5M236.10 186.50h2.5M241.43 186.50h2.5M246.77 186.50h2.5M252.10 186.50h2.5M257.43 186.50h2.5M262.77 186.50h2.5M268.10 186.50h2.5M273.43 186.50h2.5M278.77 186.50h2.5M481.43 186.50h2.5M486.77 186.50h2.5M492.10 186.50h2.5M497.43 186.50h2.5M502.77 186.50h2.5M540.10 186.50h2.5M545.43 186.50h2.5M822.77 186.50h2.5M828.10 186.50h2.5M833.43 186.50h2.5M172.10 195.42h2.5M177.43 195.42h2.5M182.77 195.42h2.5M188.10 195.42h2.5M193.43 195.42h2.5M198.77 195.42h2.5M204.10 195.42h2.5M209.43 195.42h2.5M214.77 195.42h2.5M220.10 195.42h2.5M225.43 195.42h2.5M230.77 195.42h2.5M236.10 195.42h2.5M241.43 195.42h2.5M246.77 195.42h2.5M252.10 195.42h2.5M257.43 195.42h2.5M262.77 195.42h2.5M268.10 195.42h2.5M273.43 195.42h2.5M278.77 195.42h2.5M284.10 195.42h2.5M289.43 195.42h2.5M294.77 195.42h2.5M470.77 195.42h2.5M476.10 195.42h2.5M481.43 195.42h2.5M486.77 195.42h2.5M492.10 195.42h2.5M540.10 195.42h2.5M545.43 195.42h2.5M806.77 195.42h2.5M812.10 195.42h2.5M817.43 195.42h2.5M822.77 195.42h2.5M828.10 195.42h2.5M833.43 195.42h2.5M172.10 204.34h2.5M177.43 204.34h2.5M182.77 204.34h2.5M188.10 204.34h2.5M193.43 204.34h2.5M198.77 204.34h2.5M204.10 204.34h2.5M209.43 204.34h2.5M214.77 204.34h2.5M220.10 204.34h2.5M225.43 204.34h2.5M230.77 204.34h2.5M236.10 204.34h2.5M241.43 204.34h2.5M246.77 204.34h2.5M252.10 204.34h2.5M257.43 204.34h2.5M262.77 204.34h2.5M268.10 204.34h2.5M273.43 204.34h2.5M278.77 204.34h2.5M284.10 204.34h2.5M289.43 204.34h2.5M294.77 204.34h2.5M300.10 204.34h2.5M305.43 204.34h2.5M310.77 204.34h2.5M316.10 204.34h2.5M321.43 204.34h2.5M326.77 204.34h2.5M332.10 204.34h2.5M337.43 204.34h2.5M342.77 204.34h2.5M348.10 204.34h2.5M353.43 204.34h2.5M358.77 204.34h2.5M364.10 204.34h2.5M369.43 204.34h2.5M374.77 204.34h2.5M380.10 204.34h2.5M385.43 204.34h2.5M390.77 204.34h2.5M396.10 204.34h2.5M460.10 204.34h2.5M465.43 204.34h2.5M470.77 204.34h2.5M476.10 204.34h2.5M481.43 204.34h2.5M486.77 204.34h2.5M492.10 204.34h2.5M497.43 204.34h2.5M502.77 204.34h2.5M508.10 204.34h2.5M540.10 204.34h2.5M545.43 204.34h2.5M684.10 204.34h2.5M785.43 204.34h2.5M790.77 204.34h2.5M796.10 204.34h2.5M801.43 204.34h2.5M806.77 204.34h2.5M812.10 204.34h2.5M817.43 204.34h2.5M822.77 204.34h2.5M828.10 204.34h2.5M833.43 204.34h2.5M172.10 213.26h2.5M177.43 213.26h2.5M182.77 213.26h2.5M188.10 213.26h2.5M193.43 213.26h2.5M198.77 213.26h2.5M204.10 213.26h2.5M209.43 213.26h2.5M214.77 213.26h2.5M220.10 213.26h2.5M225.43 213.26h2.5M230.77 213.26h2.5M236.10 213.26h2.5M241.43 213.26h2.5M246.77 213.26h2.5M252.10 213.26h2.5M257.43 213.26h2.5M262.77 213.26h2.5M268.10 213.26h2.5M273.43 213.26h2.5M278.77 213.26h2.5M284.10 213.26h2.5M289.43 213.26h2.5M294.77 213.26h2.5M300.10 213.26h2.5M305.43 213.26h2.5M310.77 213.26h2.5M316.10 213.26h2.5M321.43 213.26h2.5M326.77 213.26h2.5M332.10 213.26h2.5M337.43 213.26h2.5M342.77 213.26h2.5M348.10 213.26h2.5M353.43 213.26h2.5M358.77 213.26h2.5M364.10 213.26h2.5M369.43 213.26h2.5M374.77 213.26h2.5M380.10 213.26h2.5M385.43 213.26h2.5M390.77 213.26h2.5M396.10 213.26h2.5M460.10 213.26h2.5M465.43 213.26h2.5M470.77 213.26h2.5M476.10 213.26h2.5M481.43 213.26h2.5M486.77 213.26h2.5M492.10 213.26h2.5M497.43 213.26h2.5M502.77 213.26h2.5M508.10 213.26h2.5M540.10 213.26h2.5M545.43 213.26h2.5M785.43 213.26h2.5M790.77 213.26h2.5M796.10 213.26h2.5M801.43 213.26h2.5M806.77 213.26h2.5M812.10 213.26h2.5M817.43 213.26h2.5M822.77 213.26h2.5M828.10 213.26h2.5M833.43 213.26h2.5"/></svg><div class="ar" style="top:3.40px"><i></i><i></i><i></i><i></i><i></i><i></i><i></i><i></i><i></i><i></i><i></i><i></i><i></i><i></i><i></i><i></i><i></i><i></i><i></i><i></i><i></i><i></i><i></i><i></i><i></i><i></i><i></i><i></i><i></i><i></i><i></i><i></i><i></i><i></i><i></i><i></i><i></i><i></i><i></i><i></i><i></i><i></i><i></i><b>M</b><b>A</b><b>Y</b><b>I</b><b>I</b><b>V</b><b>H</b><b>Q</b><b>R</b><b>D</b><b>P</b><b>F</b><i></i><i></i><i></i><i></i><i></i><i></i><i></i><i></i><i></i><i></i><b>P</b><b>L</b><b>L</b><b>G</b><i></i><i></i><b>V</b><b>W</b><b>I</b><b>I</b><b>V</b><b>I</b><b>I</b><b>I</b><b>V</b><b>A</b><b>V</b><b>I</b><b>G</b><b>L</b><b>L</b><b>N</b><b>Q</b><i></i><b>S</b><b>P</b><b>P</b><b>E</b><b>R</b><b>P</b><b>Y</b><b>Q</b><b>T</b><b>F</b><b>K</b><b>E</b><b>D</b><b>N</b><b>S</b><b>K</b><b>I</b><b>Q</b><b>Y</b><b>I</b><b>T</b><b>I</b><b>G</b><b>G</b><b>S</b><b>T</b><b>T</b><b>T</b><b>K</b><b>V</b><b>S</b><b>T</b><b>S</b><i></i><i></i><i></i></div><div class="ar" style="top:12.32px"><i></i><i></i><i></i><i></i><i></i><i></i><i></i><i></i><i></i><i></i><i></i><i></i><i></i><i></i><i></i><i></i><i></i><i></i><i></i><i></i><i></i><i></i><i></i><i></i><i></i><i></i><i></i><i></i><i></i><i></i><i></i><i></i><i></i><i></i><i></i><i></i><i></i><i></i><i></i><i></i><i></i><i></i><i></i><i></i><i></i><b>M</b><b>V</b><b>I</b><b>V</b><b>V</b><b>R</b><b>E</b><b>S</b><b>S</b><b>F</b><i></i><i></i><i></i><i></i><i></i><i></i><i></i><i></i><i></i><i></i><b>P</b><b>L</b><b>L</b><b>A</b><i></i><i></i><b>V</b><b>W</b><b>I</b><b>I</b><b>V</b><b>I</b><b>V</b><b>L</b><b>V</b><b>A</b><b>V</b><b>I</b><b>G</b><b>A</b><b>L</b><b>L</b><b>Q</b><i></i><b>T</b><b>P</b><b>P</b><b>E</b><b>T</b><b>I</b><b>N</b><b>Q</b><b>V</b><b>F</b><b>N</b><b>E</b><b>D</b><b>H</b><b>H</b><b>K</b><b>T</b><b>Q</b><b>Y</b><b>I</b><b>N</b><b>I</b><b>G</b><b>K</b><b>P</b><i></i><i></i><i></i><i></i><i></i><i></i><i></i><i></i><i></i><i></i><i></i></div><div class="ar" style="top:21.24px"><i></i><i></i><i></i><i></i><i></i><i></i><i></i><i></i><i></i><i></i><i></i><i></i><i></i><i></i><i></i><i></i><i></i><i></i><i></i><i></i><i></i><i></i><i></i><i></i><i></i><i></i><i></i><i></i><i></i><i></i><i></i><i></i><i></i><i></i><i></i><i></i><i></i><i></i><i></i><i></i><i></i><i></i><i></i><b>M</b><b>S</b><b>I</b><b>I</b><b>Y</b><b>V</b><b>V</b><b>Q</b><b>E</b><b>K</b><b>P</b><b>S</b><i></i><i></i><i></i><i></i><i></i><i></i><i></i><i></i><i></i><i></i><b>G</b><b>F</b><b>L</b><i></i><i></i><i></i><b>V</b><b>W</b><b>A</b><b>L</b><b>V</b><b>V</b><b>A</b><b>I</b><b>V</b><b>C</b><b>I</b><b>I</b><b>G</b><b>L</b><b>L</b><b>S</b><b>Y</b><i></i><b>T</b><b>P</b><b>P</b><b>E</b><b>R</b><b>L</b><b>N</b><b>H</b><b>S</b><b>Y</b><b>H</b><b>E</b><b>N</b><b>N</b><b>Q</b><b>K</b><b>T</b><b>Q</b><b>Y</b><b>I</b><b>T</b><b>I</b><b>G</b><b>G</b><b>A</b><b>S</b><b>T</b><b>S</b><b>K</b><b>V</b><b>S</b><b>T</b><b>N</b><i></i><i></i><i></i></div><div class="ar" style="top:30.16px"><i></i><i></i><i></i><i></i><i></i><i></i><i></i><i></i><i></i><i></i><i></i><i></i><i></i><i></i><i></i><i></i><i></i><i></i><i></i><i></i><i></i><i></i><i></i><i></i><i></i><i></i><i></i><i></i><i></i><i></i><i></i><i></i><i></i><i></i><i></i><i></i><i></i><i></i><i></i><i></i><i></i><i></i><i></i><b>M</b><b>A</b><b>A</b><b>C</b><b>R</b><b>C</b><b>C</b><b>D</b><b>T</b><b>S</b><b>P</b><i></i><i></i><i></i><i></i><i></i><i></i><i></i><i></i><i></i><i></i><i></i><b>G</b><b>I</b><b>T</b><i></i><i></i><i></i><b>L</b><b>F</b><b>P</b><b>Y</b><b>F</b><b>A</b><b>I</b><b>L</b><b>I</b><b>L</b><b>I</b><b>L</b><b>A</b><b>I</b><b>L</b><b>V</b><b>V</b><b>G</b><b>T</b><b>P</b><b>N</b><b>Q</b><b>Q</b><b>Y</b><b>H</b><b>H</b><b>S</b><b>P</b><b>S</b><b>T</b><b>Y</b><b>E</b><b>Y</b><b>K</b><b>T</b><b>Q</b><b>H</b><b>I</b><b>S</b><b>I</b><b>A</b><b>K</b><i></i><i></i><i></i><i></i><i></i><i></i><i></i><i></i><i></i><i></i><i></i><i></i></div><div class="ar" style="top:39.08px"><i></i><i></i><i></i><i></i><i></i><i></i><i></i><i></i><i></i><i></i><i></i><i></i><i></i><i></i><i></i><i></i><i></i><i></i><i></i><i></i><i></i><i></i><i></i><i></i><i></i><i></i><i></i><i></i><i></i><i></i><i></i><i></i><i></i><i></i><i></i><i></i><i></i><i></i><i></i><i></i><i></i><i></i><i></i><b>M</b><b>A</b><b>V</b><b>C</b><b>R</b><b>C</b><b>C</b><b>D</b><b>T</b><b>S</b><b>P</b><i></i><i></i><i></i><i></i><i></i><i></i><i></i><i></i><i></i><i></i><i></i><b>G</b><b>I</b><b>T</b><i></i><i></i><i></i><b>L</b><b>F</b><b>P</b><b>Y</b><b>F</b><b>A</b><b>I</b><b>L</b><b>I</b><b>L</b><b>I</b><b>L</b><b>A</b><b>I</b><b>L</b><b>V</b><b>V</b><b>G</b><b>T</b><b>P</b><b>N</b><b>Q</b><b>Q</b><b>Y</b><b>H</b><b>H</b><b>S</b><b>P</b><b>S</b><b>T</b><b>Y</b><b>E</b><b>Y</b><b>K</b><b>T</b><b>Q</b><b>H</b><b>I</b><b>S</b><b>I</b><b>A</b><b>K</b><i></i><i></i><i></i><i></i><i></i><i></i><i></i><i></i><i></i><i></i><i></i><i></i></div><div class="ar" style="top:48.00px"><i></i><i></i><i></i><i></i><i></i><i></i><i></i><i></i><i></i><i></i><i></i><i></i><i></i><i></i><i></i><i></i><i></i><i></i><i></i><i></i><i></i><i></i><i></i><i></i><i></i><i></i><i></i><i></i><i></i><i></i><i></i><i></i><i></i><i></i><i></i><i></i><i></i><i></i><i></i><i></i><i></i><i></i><i></i><i></i><b>M</b><b>K</b><b>C</b><b>R</b><b>C</b><b>C</b><b>D</b><b>N</b><b>E</b><b>P</b><i></i><i></i><i></i><i></i><i></i><i></i><i></i><i></i><i></i><i></i><i></i><b>T</b><b>L</b><b>S</b><b>P</b><i></i><i></i><b>L</b><b>F</b><b>P</b><b>F</b><b>F</b><b>A</b><b>I</b><b>L</b><b>V</b><b>L</b><b>V</b><b>L</b><b>A</b><b>I</b><b>L</b><b>V</b><b>V</b><b>G</b><b>T</b><b>P</b><b>H</b><b>V</b><b>Q</b><b>Y</b><b>Q</b><b>S</b><b>D</b><b>Q</b><b>H</b><b>H</b><b>N</b><b>E</b><b>S</b><b>K</b><b>I</b><b>C</b><b>H</b><b>I</b><b>T</b><b>I</b><b>G</b><b>K</b><i></i><i></i><i></i><i></i><i></i><i></i><i></i><i></i><i></i><i></i><i></i><i></i></div><div class="ar" style="top:56.92px"><i></i><i></i><i></i><i></i><i></i><i></i><i></i><i></i><i></i><i></i><i></i><i></i><i></i><i></i><i></i><i></i><i></i><i></i><i></i><i></i><i></i><i></i><i></i><i></i><i></i><i></i><i></i><i></i><i></i><i></i><i></i><i></i><i></i><i></i><i></i><i></i><i></i><i></i><i></i><i></i><i></i><i></i><i></i><b>M</b><b>K</b><b>Y</b><b>C</b><b>R</b><b>C</b><b>S</b><b>D</b><b>T</b><b>A</b><b>P</b><i></i><i></i><i></i><i></i><i></i><i></i><i></i><i></i><i></i><i></i><i></i><b>T</b><b>D</b><b>H</b><i></i><i></i><i></i><b>I</b><b>T</b><b>L</b><b>L</b><b>F</b><b>V</b><b>I</b><b>F</b><b>I</b><b>L</b><b>S</b><b>G</b><b>L</b><b>I</b><b>L</b><b>S</b><b>L</b><b>C</b><b>T</b><b>N</b><b>I</b><b>T</b><b>S</b><b>N</b><b>N</b><b>Y</b><b>E</b><b>N</b><b>H</b><b>T</b><b>T</b><b>E</b><b>N</b><b>K</b><b>T</b><b>Q</b><b>W</b><b>I</b><b>T</b><b>I</b><b>G</b><b>G</b><b>Q</b><b>Q</b><i></i><i></i><i></i><i></i><i></i><i></i><i></i><i></i><i></i><i></i></div><div class="ar" style="top:65.84px"><i></i><i></i><i></i><i></i><i></i><i></i><i></i><i></i><i></i><i></i><i></i><i></i><i></i><i></i><b>M</b><b>P</b><b>G</b><b>A</b><b>V</b><b>K</b><b>R</b><b>L</b><b>R</b><b>G</b><b>L</b><b>L</b><b>R</b><b>G</b><b>M</b><b>L</b><b>R</b><b>C</b><b>L</b><b>Q</b><b>F</b><b>A</b><b>L</b><b>W</b><b>L</b><b>V</b><b>G</b><b>K</b><b>L</b><b>L</b><b>V</b><b>G</b><b>F</b><b>G</b><b>C</b><b>R</b><b>S</b><b>A</b><b>R</b><b>P</b><b>S</b><b>P</b><b>Q</b><b>P</b><i></i><b>T</b><b>I</b><b>F</b><b>T</b><b>S</b><b>E</b><b>P</b><b>L</b><b>V</b><b>Q</b><b>N</b><b>D</b><b>L</b><b>L</b><b>L</b><b>V</b><b>L</b><b>I</b><b>I</b><b>S</b><b>L</b><b>T</b><b>F</b><b>T</b><b>L</b><b>I</b><b>Y</b><b>I</b><b>F</b><b>A</b><b>Q</b><b>Q</b><b>Q</b><b>P</b><b>V</b><b>H</b><b>H</b><b>H</b><b>H</b><b>Y</b><b>S</b><b>E</b><b>S</b><b>N</b><b>H</b><b>K</b><b>T</b><b>Q</b><b>H</b><b>I</b><b>T</b><b>I</b><b>G</b><b>T</b><b>E</b><b>S</b><b>Q</b><b>T</b><b>R</b><b>Q</b><b>I</b><b>P</b><b>N</b><b>G</b><b>A</b><b>T</b></div><div class="ar" style="top:74.76px"><i></i><i></i><i></i><i></i><i></i><i></i><i></i><i></i><i></i><i></i><i></i><i></i><i></i><i></i><i></i><i></i><i></i><i></i><i></i><i></i><i></i><i></i><i></i><i></i><i></i><i></i><i></i><i></i><i></i><i></i><i></i><i></i><i></i><i></i><i></i><i></i><i></i><i></i><i></i><i></i><i></i><i></i><i></i><b>M</b><b>A</b><b>C</b><b>C</b><b>R</b><b>C</b><i></i><b>D</b><b>S</b><b>S</b><b>P</b><b>G</b><i></i><i></i><i></i><i></i><i></i><i></i><i></i><i></i><i></i><i></i><b>D</b><b>Y</b><b>S</b><b>G</b><i></i><i></i><b>A</b><b>L</b><b>L</b><b>I</b><b>L</b><b>F</b><b>I</b><b>S</b><b>F</b><b>V</b><b>F</b><b>F</b><b>Y</b><b>I</b><b>T</b><b>S</b><b>L</b><b>S</b><b>P</b><b>Q</b><b>G</b><b>N</b><b>T</b><b>Y</b><b>V</b><b>H</b><b>H</b><b>F</b><b>D</b><b>S</b><b>S</b><b>S</b><b>V</b><b>K</b><b>T</b><b>Q</b><b>Y</b><b>V</b><b>G</b><b>I</b><b>S</b><b>T</b><b>N</b><b>G</b><b>D</b><b>G</b><i></i><i></i><i></i><i></i><i></i><i></i><i></i><i></i></div><div class="ar" style="top:83.68px"><i></i><i></i><i></i><i></i><i></i><i></i><i></i><i></i><i></i><i></i><i></i><i></i><i></i><i></i><i></i><i></i><i></i><i></i><i></i><i></i><i></i><i></i><i></i><i></i><i></i><i></i><i></i><i></i><i></i><i></i><i></i><i></i><i></i><i></i><i></i><i></i><i></i><i></i><i></i><i></i><i></i><i></i><i></i><b>M</b><b>A</b><b>C</b><b>C</b><i></i><i></i><i></i><b>H</b><b>D</b><b>A</b><b>P</b><b>R</b><i></i><i></i><i></i><i></i><i></i><i></i><i></i><i></i><i></i><i></i><b>D</b><b>T</b><b>L</b><b>V</b><i></i><i></i><b>P</b><b>F</b><b>L</b><b>A</b><b>I</b><b>I</b><b>I</b><b>C</b><b>I</b><b>L</b><b>L</b><b>I</b><b>L</b><b>I</b><b>S</b><b>F</b><b>L</b><b>G</b><b>Q</b><b>Q</b><b>E</b><b>R</b><b>S</b><b>Y</b><i></i><b>H</b><b>H</b><b>I</b><b>D</b><b>N</b><b>S</b><b>S</b><b>I</b><b>K</b><b>T</b><b>Q</b><b>Y</b><b>V</b><b>G</b><b>I</b><b>S</b><b>T</b><b>N</b><b>G</b><b>K</b><i></i><i></i><i></i><i></i><i></i><i></i><i></i><i></i><i></i></div><div class="ar" style="top:92.60px"><i></i><i></i><i></i><i></i><i></i><i></i><i></i><i></i><i></i><i></i><i></i><i></i><i></i><i></i><i></i><i></i><i></i><i></i><i></i><i></i><i></i><i></i><i></i><i></i><b>M</b><b>P</b><b>S</b><b>A</b><b>N</b><b>L</b><b>H</b><b>L</b><b>I</b><b>V</b><b>L</b><b>T</b><b>G</b><b>V</b><b>I</b><b>G</b><b>L</b><b>M</b><b>L</b><b>L</b><b>I</b><b>R</b><b>L</b><b>R</b><b>C</b><b>T</b><b>F</b><b>T</b><b>S</b><b>T</b><i></i><i></i><i></i><i></i><i></i><i></i><i></i><b>F</b><b>S</b><b>L</b><b>P</b><b>P</b><b>L</b><b>V</b><b>T</b><i></i><i></i><b>L</b><b>N</b><b>Q</b><b>I</b><b>I</b><b>A</b><b>L</b><b>S</b><b>F</b><b>C</b><b>G</b><b>L</b><b>L</b><b>L</b><b>N</b><b>S</b><b>I</b><b>S</b><b>R</b><b>A</b><b>E</b><b>R</b><b>A</b><b>C</b><b>Y</b><b>Y</b><b>N</b><b>Y</b><b>S</b><b>V</b><b>D</b><b>S</b><b>S</b><b>K</b><b>Q</b><b>Q</b><b>H</b><b>I</b><b>S</b><b>I</b><b>S</b><b>T</b><b>P</b><b>N</b><b>G</b><b>K</b><i></i><i></i><i></i><i></i><i></i><i></i><i></i><i></i></div><div class="ar" style="top:101.52px"><i></i><i></i><i></i><i></i><i></i><i></i><i></i><i></i><i></i><i></i><i></i><i></i><i></i><i></i><i></i><i></i><i></i><i></i><i></i><i></i><i></i><i></i><i></i><i></i><b>M</b><b>L</b><b>C</b><b>G</b><b>N</b><b>K</b><b>H</b><b>L</b><b>A</b><b>L</b><b>L</b><b>M</b><b>G</b><b>V</b><b>I</b><b>G</b><b>L</b><b>L</b><b>L</b><b>L</b><b>I</b><b>R</b><b>W</b><b>R</b><b>F</b><b>I</b><b>L</b><b>P</b><b>S</b><b>T</b><i></i><i></i><i></i><i></i><i></i><i></i><i></i><b>F</b><b>S</b><b>L</b><b>P</b><b>P</b><b>L</b><b>V</b><b>T</b><i></i><i></i><b>L</b><b>E</b><b>Q</b><b>I</b><b>I</b><b>V</b><b>L</b><b>S</b><b>F</b><b>C</b><b>G</b><b>L</b><b>L</b><b>I</b><b>S</b><b>C</b><b>A</b><b>C</b><b>K</b><b>A</b><b>D</b><b>T</b><b>T</b><b>L</b><b>V</b><b>W</b><b>H</b><b>Y</b><b>S</b><b>D</b><b>N</b><b>N</b><b>S</b><b>K</b><b>N</b><b>Q</b><b>H</b><b>I</b><b>T</b><b>I</b><b>S</b><b>T</b><b>P</b><b>N</b><b>G</b><b>R</b><i></i><i></i><i></i><i></i><i></i><i></i><i></i><i></i></div><div class="ar" style="top:110.44px"><i></i><i></i><i></i><i></i><i></i><i></i><i></i><i></i><i></i><i></i><i></i><i></i><i></i><i></i><i></i><i></i><i></i><i></i><i></i><i></i><i></i><i></i><i></i><i></i><b>M</b><b>L</b><b>S</b><b>A</b><b>N</b><b>L</b><b>N</b><b>L</b><b>T</b><b>V</b><b>L</b><b>S</b><b>G</b><b>V</b><b>I</b><b>G</b><b>L</b><b>L</b><b>L</b><b>L</b><b>T</b><b>R</b><b>S</b><b>T</b><b>L</b><b>N</b><b>L</b><b>P</b><b>S</b><b>I</b><b>Y</b><b>D</b><b>L</b><b>V</b><i></i><i></i><b>P</b><b>F</b><b>S</b><b>L</b><b>P</b><b>R</b><b>L</b><b>V</b><b>K</b><i></i><i></i><b>L</b><b>D</b><b>Q</b><b>I</b><b>I</b><b>A</b><b>F</b><b>A</b><b>F</b><b>L</b><b>G</b><b>L</b><b>L</b><b>L</b><b>N</b><b>L</b><b>L</b><b>N</b><b>C</b><b>S</b><b>Q</b><b>T</b><b>V</b><b>I</b><b>S</b><b>H</b><b>R</b><b>Y</b><b>S</b><b>N</b><b>D</b><b>N</b><b>S</b><b>K</b><b>T</b><b>Q</b><b>Y</b><b>V</b><b>T</b><b>I</b><b>S</b><b>T</b><b>P</b><b>S</b><b>R</b><i></i><i></i><i></i><i></i><i></i><i></i><i></i><i></i><i></i></div><div class="ar" style="top:119.36px"><b>M</b><b>R</b><b>L</b><b>T</b><b>C</b><b>Q</b><b>W</b><b>E</b><b>D</b><b>V</b><b>G</b><b>I</b><b>G</b><b>G</b><b>N</b><b>R</b><b>R</b><b>V</b><b>R</b><b>Y</b><b>P</b><b>S</b><b>Q</b><b>R</b><b>T</b><b>L</b><b>S</b><b>P</b><b>N</b><b>G</b><b>H</b><b>L</b><b>M</b><b>V</b><b>V</b><b>M</b><b>G</b><b>V</b><b>L</b><b>G</b><b>L</b><b>L</b><b>W</b><b>L</b><b>R</b><b>P</b><b>F</b><b>R</b><b>S</b><b>I</b><b>Y</b><b>T</b><b>S</b><b>T</b><i></i><i></i><i></i><i></i><i></i><i></i><i></i><b>F</b><b>S</b><b>M</b><b>P</b><b>P</b><b>L</b><b>I</b><b>N</b><i></i><i></i><b>L</b><b>Q</b><b>H</b><b>I</b><b>L</b><b>N</b><b>L</b><b>T</b><b>L</b><b>L</b><b>S</b><b>L</b><b>I</b><b>L</b><b>S</b><b>S</b><b>F</b><b>I</b><b>L</b><b>A</b><b>E</b><b>R</b><b>V</b><b>T</b><b>H</b><b>N</b><b>H</b><b>Y</b><b>S</b><b>N</b><b>D</b><b>N</b><b>S</b><b>K</b><b>A</b><b>Q</b><b>Y</b><b>I</b><b>R</b><b>I</b><b>S</b><b>T</b><b>G</b><b>Q</b><i></i><i></i><i></i><i></i><i></i><i></i><i></i><i></i><i></i><i></i></div><div class="ar" style="top:128.28px"><i></i><i></i><i></i><i></i><i></i><i></i><i></i><i></i><i></i><i></i><i></i><i></i><i></i><i></i><i></i><i></i><i></i><i></i><i></i><i></i><i></i><b>M</b><b>K</b><b>V</b><b>L</b><b>L</b><b>A</b><b>T</b><i></i><i></i><i></i><i></i><i></i><i></i><i></i><i></i><b>G</b><b>V</b><b>L</b><b>G</b><b>L</b><b>L</b><b>L</b><b>L</b><b>I</b><b>K</b><b>W</b><b>K</b><b>S</b><b>Q</b><b>S</b><b>T</b><b>S</b><b>T</b><b>S</b><b>N</b><b>Q</b><b>V</b><i></i><b>C</b><b>Q</b><b>C</b><b>P</b><b>T</b><b>S</b><b>P</b><b>W</b><b>V</b><b>I</b><i></i><i></i><b>Y</b><b>A</b><b>F</b><b>Y</b><b>N</b><b>S</b><b>L</b><b>S</b><b>L</b><b>V</b><b>L</b><b>L</b><b>L</b><b>C</b><b>H</b><b>L</b><b>I</b><b>P</b><b>E</b><b>I</b><b>K</b><b>P</b><b>I</b><b>H</b><b>T</b><b>S</b><b>Y</b><b>N</b><b>T</b><b>H</b><b>D</b><b>S</b><b>S</b><b>K</b><b>Q</b><b>Q</b><b>H</b><b>I</b><b>S</b><b>I</b><b>N</b><b>T</b><b>G</b><b>N</b><b>G</b><b>K</b><i></i><i></i><i></i><i></i><i></i><i></i><i></i><i></i></div><div class="ar" style="top:137.20px"><i></i><i></i><i></i><i></i><i></i><i></i><i></i><i></i><i></i><i></i><i></i><i></i><i></i><i></i><i></i><i></i><i></i><i></i><i></i><i></i><i></i><b>M</b><b>Q</b><b>L</b><b>A</b><b>R</b><b>S</b><b>V</b><b>N</b><b>A</b><b>H</b><b>L</b><b>A</b><b>I</b><b>L</b><b>L</b><b>G</b><b>V</b><b>I</b><b>G</b><b>F</b><b>W</b><b>L</b><b>L</b><b>I</b><b>R</b><b>L</b><b>K</b><b>F</b><b>Q</b><b>Y</b><b>P</b><b>S</b><b>I</b><b>S</b><b>D</b><b>Q</b><b>L</b><b>P</b><b>V</b><b>P</b><b>S</b><b>P</b><b>W</b><b>V</b><b>K</b><b>Y</b><b>L</b><b>I</b><i></i><i></i><b>L</b><b>S</b><b>S</b><b>F</b><b>N</b><b>S</b><b>L</b><b>S</b><b>L</b><b>V</b><b>L</b><b>L</b><b>L</b><b>C</b><b>H</b><b>L</b><b>I</b><b>P</b><b>D</b><b>I</b><b>K</b><b>P</b><b>A</b><b>V</b><b>T</b><b>Y</b><b>Y</b><b>N</b><b>T</b><b>T</b><b>D</b><b>N</b><b>T</b><b>K</b><b>S</b><b>C</b><b>H</b><b>I</b><b>S</b><b>I</b><b>S</b><b>T</b><b>A</b><b>N</b><b>G</b><b>N</b><i></i><i></i><i></i><i></i><i></i><i></i><i></i><i></i></div><div class="ar" style="top:146.12px"><i></i><i></i><i></i><i></i><i></i><i></i><i></i><i></i><i></i><i></i><i></i><i></i><i></i><i></i><i></i><i></i><i></i><i></i><i></i><i></i><i></i><i></i><i></i><b>M</b><b>R</b><b>L</b><b>F</b><b>L</b><i></i><i></i><i></i><i></i><i></i><i></i><i></i><i></i><b>G</b><b>V</b><b>L</b><b>S</b><b>F</b><b>L</b><b>L</b><b>L</b><b>I</b><b>K</b><b>L</b><b>R</b><b>L</b><b>L</b><b>S</b><b>T</b><b>S</b><b>T</b><b>F</b><b>E</b><b>V</b><b>D</b><i></i><i></i><i></i><i></i><b>W</b><b>R</b><b>T</b><b>L</b><b>R</b><b>E</b><b>N</b><i></i><i></i><b>L</b><b>L</b><b>I</b><b>I</b><b>S</b><b>T</b><b>L</b><b>S</b><b>L</b><b>F</b><b>G</b><b>F</b><b>F</b><b>V</b><b>T</b><b>V</b><b>L</b><b>I</b><b>K</b><b>A</b><b>E</b><b>S</b><b>E</b><b>H</b><b>I</b><b>H</b><b>F</b><b>H</b><b>S</b><b>H</b><b>D</b><b>S</b><b>S</b><b>K</b><b>T</b><b>C</b><b>N</b><b>I</b><b>V</b><b>V</b><b>N</b><b>T</b><b>G</b><b>K</b><i></i><i></i><i></i><i></i><i></i><i></i><i></i><i></i><i></i><i></i></div><div class="ar" style="top:155.04px"><i></i><i></i><i></i><i></i><i></i><i></i><i></i><i></i><i></i><i></i><i></i><i></i><i></i><i></i><i></i><i></i><i></i><i></i><i></i><b>M</b><b>N</b><b>K</b><b>H</b><b>V</b><b>V</b><b>V</b><b>F</b><b>T</b><i></i><i></i><i></i><i></i><i></i><i></i><i></i><i></i><b>G</b><b>V</b><b>V</b><b>S</b><b>L</b><b>M</b><b>L</b><b>L</b><b>G</b><b>R</b><b>L</b><b>R</b><b>W</b><b>R</b><b>S</b><b>I</b><b>S</b><b>I</b><b>F</b><b>D</b><b>F</b><b>F</b><i></i><i></i><i></i><i></i><b>P</b><b>P</b><b>V</b><b>N</b><b>I</b><b>P</b><b>N</b><i></i><i></i><b>L</b><b>N</b><b>Q</b><b>S</b><b>I</b><b>A</b><b>L</b><b>A</b><b>L</b><b>C</b><b>G</b><b>L</b><b>L</b><b>L</b><b>N</b><b>C</b><b>L</b><b>G</b><b>K</b><b>A</b><b>E</b><b>P</b><b>S</b><b>Y</b><b>S</b><b>Y</b><b>Y</b><b>S</b><b>T</b><b>H</b><b>D</b><b>S</b><b>S</b><b>K</b><b>T</b><b>Q</b><b>Y</b><b>I</b><b>K</b><b>I</b><b>N</b><b>T</b><b>P</b><b>D</b><b>G</b><i></i><i></i><i></i><i></i><i></i><i></i><i></i><i></i><i></i></div><div class="ar" style="top:163.96px"><i></i><i></i><i></i><i></i><i></i><i></i><i></i><i></i><i></i><i></i><i></i><i></i><i></i><i></i><i></i><i></i><i></i><i></i><i></i><i></i><i></i><i></i><i></i><i></i><i></i><i></i><i></i><b>M</b><b>I</b><b>N</b><b>H</b><b>F</b><b>A</b><b>A</b><b>I</b><b>T</b><b>G</b><b>V</b><b>I</b><b>L</b><b>L</b><b>L</b><b>W</b><b>L</b><b>I</b><b>R</b><b>S</b><b>H</b><b>S</b><b>I</b><b>L</b><b>T</b><b>S</b><b>I</b><b>Y</b><b>E</b><b>Q</b><b>N</b><i></i><i></i><i></i><i></i><i></i><b>T</b><b>P</b><b>R</b><b>V</b><b>I</b><b>T</b><i></i><i></i><b>Y</b><b>A</b><b>N</b><b>L</b><b>L</b><b>L</b><b>L</b><b>L</b><b>I</b><b>A</b><b>Y</b><b>C</b><b>Y</b><b>F</b><b>C</b><b>S</b><b>T</b><b>Q</b><b>S</b><b>V</b><b>S</b><b>Y</b><b>V</b><b>V</b><b>S</b><b>H</b><b>S</b><b>E</b><b>P</b><b>V</b><b>V</b><b>N</b><b>S</b><b>K</b><b>V</b><b>V</b><b>Y</b><b>I</b><b>S</b><b>V</b><b>G</b><b>T</b><b>S</b><b>P</b><b>P</b><b>S</b><b>L</b><b>Q</b><b>V</b><b>S</b><b>E</b><i></i><i></i><i></i></div><div class="ar" style="top:172.88px"><i></i><i></i><i></i><i></i><i></i><i></i><i></i><i></i><i></i><i></i><i></i><i></i><i></i><i></i><i></i><i></i><i></i><i></i><i></i><i></i><i></i><i></i><i></i><b>M</b><b>R</b><b>L</b><b>W</b><b>I</b><b>K</b><b>M</b><b>H</b><b>L</b><b>R</b><b>V</b><b>I</b><b>V</b><b>G</b><b>V</b><b>V</b><b>T</b><b>F</b><b>L</b><b>L</b><b>L</b><b>T</b><b>R</b><b>V</b><b>K</b><b>F</b><b>A</b><b>I</b><b>R</b><b>S</b><b>F</b><b>S</b><b>I</b><b>S</b><i></i><i></i><i></i><i></i><b>E</b><b>I</b><b>L</b><b>P</b><b>P</b><b>L</b><b>I</b><b>T</b><i></i><i></i><b>L</b><b>N</b><b>Q</b><b>I</b><b>I</b><b>T</b><b>L</b><b>S</b><b>F</b><b>L</b><b>I</b><b>L</b><b>F</b><b>V</b><b>N</b><b>C</b><b>L</b><b>C</b><b>R</b><b>G</b><b>G</b><b>D</b><b>T</b><b>I</b><b>F</b><b>L</b><b>D</b><b>P</b><b>L</b><b>H</b><b>R</b><i></i><i></i><i></i><i></i><i></i><i></i><i></i><i></i><i></i><i></i><i></i><i></i><i></i><i></i><i></i><i></i><i></i><i></i><i></i><i></i><i></i><i></i><i></i></div><div class="ar" style="top:181.80px"><i></i><i></i><i></i><i></i><i></i><i></i><i></i><i></i><i></i><i></i><i></i><i></i><i></i><i></i><i></i><i></i><i></i><i></i><i></i><i></i><i></i><b>M</b><b>P</b><b>S</b><b>T</b><b>R</b><b>H</b><b>E</b><b>V</b><b>N</b><b>H</b><b>L</b><b>A</b><b>V</b><b>I</b><b>T</b><b>G</b><b>V</b><b>I</b><b>L</b><b>L</b><b>L</b><b>W</b><b>H</b><b>I</b><b>R</b><b>S</b><b>Q</b><b>S</b><b>I</b><b>L</b><b>I</b><b>L</b><b>I</b><b>F</b><b>D</b><b>A</b><b>I</b><i></i><i></i><i></i><i></i><i></i><b>A</b><b>P</b><b>R</b><b>V</b><b>T</b><b>N</b><i></i><i></i><b>I</b><b>T</b><b>S</b><b>A</b><b>I</b><b>L</b><b>L</b><b>A</b><b>I</b><b>F</b><b>Y</b><b>C</b><b>Y</b><b>S</b><b>N</b><b>S</b><b>T</b><b>A</b><b>S</b><b>I</b><b>P</b><b>Y</b><b>I</b><b>S</b><b>Q</b><b>P</b><b>V</b><b>T</b><b>H</b><b>S</b><b>S</b><b>T</b><b>S</b><b>K</b><b>I</b><b>V</b><b>Y</b><b>I</b><b>A</b><b>V</b><b>G</b><b>T</b><b>N</b><b>P</b><b>V</b><b>A</b><b>V</b><b>S</b><b>K</b><b>H</b><b>E</b><i></i><i></i><i></i></div><div class="ar" style="top:190.72px"><i></i><i></i><i></i><i></i><i></i><i></i><i></i><i></i><i></i><i></i><i></i><i></i><i></i><i></i><i></i><i></i><i></i><i></i><i></i><i></i><i></i><i></i><i></i><i></i><b>M</b><b>E</b><b>Y</b><b>P</b><b>R</b><b>V</b><b>H</b><b>L</b><b>A</b><b>I</b><b>L</b><b>S</b><b>V</b><b>L</b><b>I</b><b>L</b><b>S</b><b>Q</b><b>L</b><b>L</b><b>I</b><b>K</b><b>W</b><b>N</b><b>L</b><b>W</b><b>S</b><b>I</b><b>S</b><b>I</b><b>S</b><b>S</b><i></i><i></i><i></i><i></i><i></i><b>C</b><b>L</b><b>P</b><b>Q</b><b>P</b><b>H</b><b>L</b><b>L</b><i></i><i></i><b>H</b><b>P</b><b>N</b><b>L</b><b>L</b><b>V</b><b>C</b><b>I</b><b>V</b><b>L</b><b>C</b><b>I</b><b>F</b><b>F</b><b>S</b><b>S</b><b>V</b><b>L</b><b>S</b><b>Q</b><b>G</b><b>Q</b><b>S</b><b>Y</b><b>S</b><b>Y</b><b>S</b><b>Y</b><b>F</b><b>S</b><b>T</b><b>S</b><b>T</b><b>S</b><b>D</b><b>K</b><b>F</b><b>I</b><b>S</b><b>V</b><b>A</b><b>V</b><b>G</b><b>N</b><b>G</b><b>G</b><b>Q</b><b>G</b><i></i><i></i><i></i><i></i><i></i><i></i></div><div class="ar" style="top:199.64px"><i></i><i></i><i></i><i></i><i></i><i></i><i></i><i></i><i></i><i></i><i></i><i></i><i></i><i></i><i></i><i></i><i></i><i></i><i></i><i></i><i></i><i></i><i></i><i></i><i></i><i></i><i></i><i></i><i></i><i></i><i></i><i></i><i></i><i></i><i></i><i></i><i></i><i></i><i></i><i></i><i></i><i></i><i></i><b>V</b><b>A</b><b>T</b><b>G</b><b>K</b><b>C</b><b>Y</b><b>C</b><b>P</b><b>E</b><b>D</b><i></i><i></i><i></i><i></i><i></i><i></i><i></i><i></i><i></i><i></i><b>P</b><b>R</b><b>V</b><b>G</b><b>P</b><i></i><i></i><b>L</b><b>L</b><b>V</b><b>L</b><b>C</b><b>L</b><b>L</b><b>L</b><b>L</b><b>L</b><b>I</b><b>L</b><b>F</b><b>S</b><b>R</b><b>S</b><b>W</b><b>N</b><b>V</b><b>A</b><b>P</b><b>V</b><b>V</b><b>V</b><b>P</b><i></i><b>S</b><b>Y</b><b>H</b><b>T</b><b>V</b><b>Y</b><b>H</b><b>H</b><b>E</b><b>K</b><b>Y</b><b>Q</b><b>N</b><b>I</b><b>E</b><b>I</b><b>Q</b><b>K</b><i></i><i></i><i></i><i></i><i></i><i></i><i></i><i></i><i></i><i></i></div><div class="ar" style="top:208.56px"><i></i><i></i><i></i><i></i><i></i><i></i><i></i><i></i><i></i><i></i><i></i><i></i><i></i><i></i><i></i><i></i><i></i><i></i><i></i><i></i><i></i><i></i><i></i><i></i><i></i><i></i><i></i><i></i><i></i><i></i><i></i><i></i><i></i><i></i><i></i><i></i><i></i><i></i><i></i><i></i><i></i><i></i><i></i><b>M</b><b>A</b><b>T</b><b>G</b><b>T</b><b>C</b><b>H</b><b>C</b><b>P</b><b>D</b><b>N</b><i></i><i></i><i></i><i></i><i></i><i></i><i></i><i></i><i></i><i></i><b>P</b><b>F</b><b>V</b><b>V</b><b>P</b><i></i><i></i><b>L</b><b>V</b><b>T</b><b>V</b><b>V</b><b>L</b><b>I</b><b>L</b><b>L</b><b>I</b><b>I</b><b>I</b><b>V</b><b>A</b><b>S</b><b>V</b><b>T</b><b>S</b><b>T</b><b>G</b><b>P</b><b>V</b><b>I</b><b>I</b><b>P</b><b>P</b><b>S</b><b>H</b><b>N</b><b>T</b><b>T</b><b>Y</b><b>H</b><b>H</b><b>E</b><b>K</b><b>Y</b><b>Q</b><b>N</b><b>I</b><b>E</b><b>V</b><b>Q</b><b>K</b><i></i><i></i><i></i><i></i><i></i><i></i><i></i><i></i><i></i><i></i></div>
<svg class="tree" width="858" height="710" viewBox="0 0 858 710"><g stroke="#8a8a8a" stroke-width="1" fill="none" shape-rendering="crispEdges"><path d="M247.5 256.4V558.2"/><path d="M255.5 480.5V635.6"/><path d="M247.5 558.2H255.5"/><path d="M263.9 412.5V547.2"/><path d="M255.5 480.5H263.9"/><path d="M273.6 375.6V449.3"/><path d="M263.9 412.5H273.6"/><path d="M278.0 324.8V425.6"/><path d="M273.6 375.6H278.0"/><path d="M291.7 296.7V351.3"/><path d="M278.0 324.8H291.7"/><path d="M297.3 280.7V312.7"/><path d="M291.7 296.7H297.3"/><path d="M305.7 272.5V288.8"/><path d="M297.3 280.7H305.7"/><path d="M341.7 305.2V320.5"/><path d="M297.3 312.7H341.7"/><path d="M297.3 337.0V367.2"/><path d="M291.7 351.3H297.3"/><path d="M308.7 353.5V381.2"/><path d="M297.3 367.2H308.7"/><path d="M321.2 369.6V393.3"/><path d="M308.7 381.2H321.2"/><path d="M332.7 385.9V401.2"/><path d="M321.2 393.3H332.7"/><path d="M328.2 417.6V433.4"/><path d="M278.0 425.6H328.2"/><path d="M274.5 503.4V590.8"/><path d="M263.9 547.2H274.5"/><path d="M281.8 478.2V528.5"/><path d="M274.5 503.4H281.8"/><path d="M289.8 466.1V490.4"/><path d="M281.8 478.2H289.8"/><path d="M326.2 482.5V498.4"/><path d="M289.8 490.4H326.2"/><path d="M304.9 514.4V542.9"/><path d="M281.8 528.5H304.9"/><path d="M342.0 530.4V554.2"/><path d="M304.9 542.9H342.0"/><path d="M417.1 546.9V563.0"/><path d="M342.0 554.2H417.1"/><path d="M327.7 579.2V603.3"/><path d="M274.5 590.8H327.7"/><path d="M347.6 595.1V610.9"/><path d="M327.7 603.3H347.6"/><path d="M331.4 627.5V644.0"/><path d="M255.5 635.6H331.4"/><path d="M247.5 256.4H413.6"/><path d="M305.7 272.5H429.3"/><path d="M305.7 288.8H430.8"/><path d="M341.7 305.2H433.5"/><path d="M341.7 320.5H433.5"/><path d="M297.3 337.0H444.6"/><path d="M308.7 353.5H422.6"/><path d="M321.2 369.6H416.1"/><path d="M332.7 385.9H412.1"/><path d="M332.7 401.2H411.0"/><path d="M328.2 417.6H434.1"/><path d="M328.2 433.4H425.7"/><path d="M273.6 449.3H434.1"/><path d="M289.8 466.1H422.6"/><path d="M326.2 482.5H425.7"/><path d="M326.2 498.4H423.0"/><path d="M304.9 514.4H431.4"/><path d="M342.0 530.4H426.2"/><path d="M417.1 546.9H420.9"/><path d="M417.1 563.0H420.9"/><path d="M327.7 579.2H426.0"/><path d="M347.6 595.1H433.0"/><path d="M347.6 610.9H427.9"/><path d="M331.4 627.5H425.5"/><path d="M331.4 644.0H420.3"/></g><g stroke="#555" stroke-width="1" fill="none"><path d="M450.3 251.3H489.5M450.3 247.8V252M489.5 247.8V252"/></g><g stroke="#111" stroke-width="1.6" fill="none"><path d="M535.9 268.7V519.6M499.4 528.4V614.8M510.8 621.6V645.2"/></g></svg><div class="lf" style="left:413.6px;top:252.1px">RCNMV-NP_620546</div><div class="lf" style="left:429.3px;top:268.2px">CMoV-ACT36597<span class="st">★</span></div><div class="lf" style="left:430.8px;top:284.5px">HCRSV-ABD48711</div><div class="lf" style="left:433.5px;top:300.9px">CCFV-NP_041886</div><div class="lf" style="left:433.5px;top:316.2px">TCV-AAP78488</div><div class="lf" style="left:444.6px;top:332.7px">NLVCV-YP_001039886<span class="st">★</span></div><div class="lf" style="left:422.6px;top:349.2px">PFBV-ABB79927</div><div class="lf" style="left:416.1px;top:365.3px">AFBV-YP_459963</div><div class="lf" style="left:412.1px;top:381.6px">SgCV-NP_044387</div><div class="lf" style="left:411.0px;top:396.9px">CarMV-CAB38330</div><div class="lf" style="left:434.1px;top:413.3px">SYMMV-YP_002333478<span class="st">★</span></div><div class="lf" style="left:425.7px;top:429.1px">CPMoV-NP_613270</div><div class="lf" style="left:434.1px;top:445.0px">PLPV-ACJ38437+</div><div class="lf" style="left:422.6px;top:461.8px">JINRV-NP_038457</div><div class="lf" style="left:425.7px;top:478.2px">PSNV-NP_862838-</div><div class="lf" style="left:423.0px;top:494.1px">MNSV-NP_041230.1</div><div class="lf" style="left:431.4px;top:510.1px">GaMV-NP_044735</div><div class="lf" style="left:426.2px;top:526.1px">FNSV-ACW84410<span class="st">★</span></div><div class="lf" style="left:420.9px;top:542.6px">OLV-1-NP_043910</div><div class="lf" style="left:420.9px;top:558.7px">TNV-A-NP_056827</div><div class="lf" style="left:426.0px;top:574.9px">BBSV-NP_758814.2</div><div class="lf" style="left:433.0px;top:590.8px">LWSV-NP_044743</div><div class="lf" style="left:427.9px;top:606.6px">TNV-D-P27212</div><div class="lf" style="left:425.5px;top:623.2px">CMMV-YP_002117837<span class="st">★</span></div><div class="lf" style="left:420.3px;top:639.7px">PMV-NP_068344</div><div class="bt" style="left:297.4px;top:272.8px">385</div><div class="bt" style="left:292.0px;top:288.8px">224</div><div class="bt" style="left:297.0px;top:313.6px">988</div><div class="bt" style="left:278.2px;top:317.3px">735</div><div class="bt" style="left:292.2px;top:352.4px">286</div><div class="bt" style="left:297.5px;top:368.3px">485</div><div class="bt" style="left:274.0px;top:367.3px">402</div><div class="bt" style="left:308.7px;top:382.1px">587</div><div class="bt" style="left:321.2px;top:394.2px">660</div><div class="bt" style="left:264.3px;top:404.7px">615</div><div class="bt" style="left:278.6px;top:426.5px">1000</div><div class="bt" style="left:255.9px;top:472.2px">542</div><div class="bt" style="left:282.0px;top:470.0px">686</div><div class="bt" style="left:290.0px;top:490.9px">975</div><div class="bt" style="left:275.0px;top:495.6px">530</div><div class="bt" style="left:282.0px;top:529.1px">899</div><div class="bt" style="left:264.3px;top:548.1px">592</div><div class="bt" style="left:304.9px;top:543.4px">987</div><div class="bt" style="left:342.2px;top:555.2px">1000</div><div class="bt" style="left:274.5px;top:591.3px">998</div><div class="bt" style="left:327.7px;top:604.0px">785</div><div class="bt" style="left:256.4px;top:635.7px">1000</div><div class="bt" style="left:466.2px;top:242.4px;font-size:8px">0.1</div>
<div class="big" style="left:540.2px;top:371.3px">Carmovirus</div>
<div class="big" style="left:504.3px;top:559.5px">Necrovirus</div>
<div class="big" style="left:515.2px;top:629.6px">Panicovirus</div>
<div class="cap">Carmovirus “p9-like” movement proteins (MP2)</div>
</div></body></html>
